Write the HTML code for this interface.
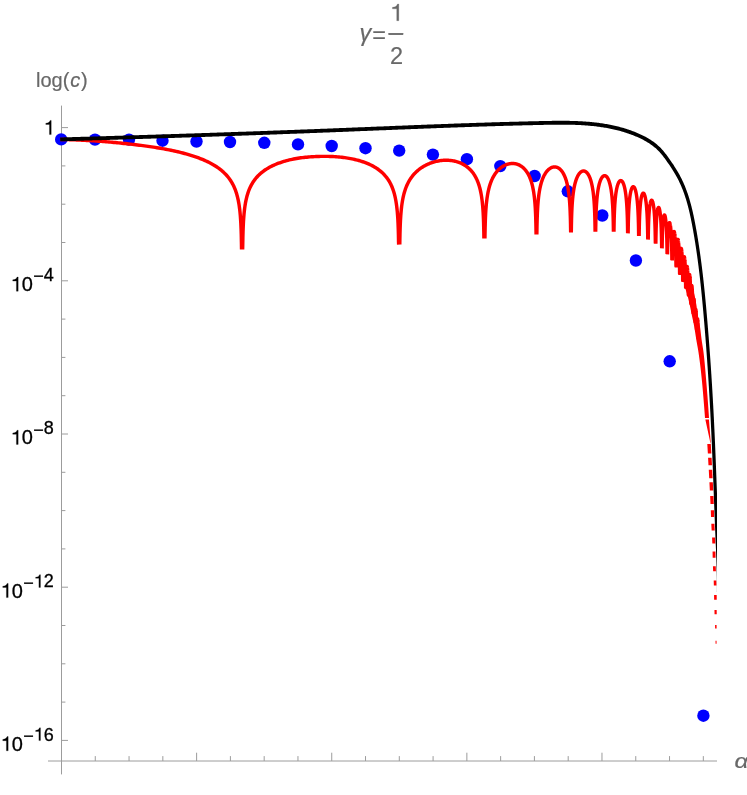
<!DOCTYPE html>
<html><head><meta charset="utf-8"><title>plot</title>
<style>html,body{margin:0;padding:0;background:#fff}body{width:747px;height:795px;position:relative;overflow:hidden;font-family:"Liberation Sans",sans-serif}</style>
</head><body>
<svg width="747" height="795" viewBox="0 0 747 795" style="position:absolute;left:0;top:0;font-family:'Liberation Sans',sans-serif;will-change:transform">
<defs><clipPath id="cp"><rect x="40" y="100" width="676.9" height="680"/></clipPath></defs>
<rect width="747" height="795" fill="#fff"/>
<line x1="48" y1="761.0" x2="717" y2="761.0" stroke="#9c9c9c" stroke-width="1"/>
<line x1="61.5" y1="105.6" x2="61.5" y2="774.4" stroke="#9c9c9c" stroke-width="1"/>
<line x1="61.50" y1="761.0" x2="61.50" y2="752.70" stroke="#9c9c9c" stroke-width="1"/>
<line x1="95.28" y1="761.0" x2="95.28" y2="756.10" stroke="#9c9c9c" stroke-width="1"/>
<line x1="129.06" y1="761.0" x2="129.06" y2="756.10" stroke="#9c9c9c" stroke-width="1"/>
<line x1="162.84" y1="761.0" x2="162.84" y2="756.10" stroke="#9c9c9c" stroke-width="1"/>
<line x1="196.62" y1="761.0" x2="196.62" y2="752.70" stroke="#9c9c9c" stroke-width="1"/>
<line x1="230.40" y1="761.0" x2="230.40" y2="756.10" stroke="#9c9c9c" stroke-width="1"/>
<line x1="264.18" y1="761.0" x2="264.18" y2="756.10" stroke="#9c9c9c" stroke-width="1"/>
<line x1="297.96" y1="761.0" x2="297.96" y2="756.10" stroke="#9c9c9c" stroke-width="1"/>
<line x1="331.74" y1="761.0" x2="331.74" y2="752.70" stroke="#9c9c9c" stroke-width="1"/>
<line x1="365.52" y1="761.0" x2="365.52" y2="756.10" stroke="#9c9c9c" stroke-width="1"/>
<line x1="399.30" y1="761.0" x2="399.30" y2="756.10" stroke="#9c9c9c" stroke-width="1"/>
<line x1="433.08" y1="761.0" x2="433.08" y2="756.10" stroke="#9c9c9c" stroke-width="1"/>
<line x1="466.86" y1="761.0" x2="466.86" y2="752.70" stroke="#9c9c9c" stroke-width="1"/>
<line x1="500.64" y1="761.0" x2="500.64" y2="756.10" stroke="#9c9c9c" stroke-width="1"/>
<line x1="534.42" y1="761.0" x2="534.42" y2="756.10" stroke="#9c9c9c" stroke-width="1"/>
<line x1="568.20" y1="761.0" x2="568.20" y2="756.10" stroke="#9c9c9c" stroke-width="1"/>
<line x1="601.98" y1="761.0" x2="601.98" y2="752.70" stroke="#9c9c9c" stroke-width="1"/>
<line x1="635.76" y1="761.0" x2="635.76" y2="756.10" stroke="#9c9c9c" stroke-width="1"/>
<line x1="669.54" y1="761.0" x2="669.54" y2="756.10" stroke="#9c9c9c" stroke-width="1"/>
<line x1="703.32" y1="761.0" x2="703.32" y2="756.10" stroke="#9c9c9c" stroke-width="1"/>
<line x1="61.5" y1="127.60" x2="68.00" y2="127.60" stroke="#9c9c9c" stroke-width="1"/>
<line x1="61.5" y1="165.90" x2="65.40" y2="165.90" stroke="#9c9c9c" stroke-width="1"/>
<line x1="61.5" y1="204.20" x2="65.40" y2="204.20" stroke="#9c9c9c" stroke-width="1"/>
<line x1="61.5" y1="242.50" x2="65.40" y2="242.50" stroke="#9c9c9c" stroke-width="1"/>
<line x1="61.5" y1="280.80" x2="68.00" y2="280.80" stroke="#9c9c9c" stroke-width="1"/>
<line x1="61.5" y1="319.10" x2="65.40" y2="319.10" stroke="#9c9c9c" stroke-width="1"/>
<line x1="61.5" y1="357.40" x2="65.40" y2="357.40" stroke="#9c9c9c" stroke-width="1"/>
<line x1="61.5" y1="395.70" x2="65.40" y2="395.70" stroke="#9c9c9c" stroke-width="1"/>
<line x1="61.5" y1="434.00" x2="68.00" y2="434.00" stroke="#9c9c9c" stroke-width="1"/>
<line x1="61.5" y1="472.30" x2="65.40" y2="472.30" stroke="#9c9c9c" stroke-width="1"/>
<line x1="61.5" y1="510.60" x2="65.40" y2="510.60" stroke="#9c9c9c" stroke-width="1"/>
<line x1="61.5" y1="548.90" x2="65.40" y2="548.90" stroke="#9c9c9c" stroke-width="1"/>
<line x1="61.5" y1="587.20" x2="68.00" y2="587.20" stroke="#9c9c9c" stroke-width="1"/>
<line x1="61.5" y1="625.50" x2="65.40" y2="625.50" stroke="#9c9c9c" stroke-width="1"/>
<line x1="61.5" y1="663.80" x2="65.40" y2="663.80" stroke="#9c9c9c" stroke-width="1"/>
<line x1="61.5" y1="702.10" x2="65.40" y2="702.10" stroke="#9c9c9c" stroke-width="1"/>
<line x1="61.5" y1="740.40" x2="68.00" y2="740.40" stroke="#9c9c9c" stroke-width="1"/>
<g clip-path="url(#cp)">
<g fill="#0000ff">
<circle cx="61.2" cy="139.4" r="6.2"/>
<circle cx="95.0" cy="139.6" r="6.2"/>
<circle cx="129.0" cy="139.6" r="6.2"/>
<circle cx="162.5" cy="140.7" r="6.2"/>
<circle cx="196.5" cy="141.5" r="6.2"/>
<circle cx="230.0" cy="142.0" r="6.2"/>
<circle cx="264.3" cy="142.8" r="6.2"/>
<circle cx="298.0" cy="144.4" r="6.2"/>
<circle cx="331.7" cy="146.0" r="6.2"/>
<circle cx="365.5" cy="148.2" r="6.2"/>
<circle cx="399.2" cy="150.6" r="6.2"/>
<circle cx="432.9" cy="154.6" r="6.2"/>
<circle cx="466.9" cy="159.2" r="6.2"/>
<circle cx="500.3" cy="166.1" r="6.2"/>
<circle cx="534.6" cy="176.0" r="6.2"/>
<circle cx="567.8" cy="191.3" r="6.2"/>
<circle cx="602.3" cy="215.5" r="6.2"/>
<circle cx="635.9" cy="260.5" r="6.2"/>
<circle cx="669.7" cy="361.3" r="6.2"/>
<circle cx="703.4" cy="715.7" r="6.2"/>
</g>
<path d="M60.40 139.40 L61.22 139.40 L61.27 139.40 L61.36 139.40 L61.48 139.41 L61.64 139.41 L61.83 139.42 L62.05 139.42 L62.31 139.43 L62.61 139.44 L62.94 139.45 L63.30 139.46 L63.70 139.47 L64.13 139.49 L64.60 139.50 L65.09 139.52 L65.63 139.53 L66.19 139.55 L66.79 139.57 L67.42 139.59 L68.09 139.62 L68.78 139.64 L69.51 139.67 L70.27 139.69 L71.06 139.72 L71.88 139.76 L72.73 139.79 L73.62 139.82 L74.53 139.86 L75.47 139.90 L76.44 139.94 L77.44 139.99 L78.47 140.03 L79.53 140.08 L80.62 140.13 L81.73 140.19 L82.87 140.24 L84.04 140.30 L85.23 140.36 L86.45 140.43 L87.69 140.50 L88.96 140.57 L90.25 140.64 L91.57 140.72 L92.91 140.80 L94.27 140.88 L95.65 140.97 L97.06 141.06 L98.48 141.16 L99.93 141.26 L101.40 141.37 L102.88 141.49 L104.39 141.60 L105.91 141.73 L107.45 141.86 L109.01 141.99 L110.59 142.13 L112.18 142.27 L113.78 142.42 L115.40 142.58 L117.04 142.73 L118.68 142.90 L120.34 143.06 L122.02 143.23 L123.70 143.41 L125.39 143.59 L127.10 143.77 L128.81 143.95 L130.53 144.14 L132.27 144.34 L134.00 144.54 L135.75 144.74 L137.50 144.95 L139.26 145.17 L141.02 145.39 L142.78 145.62 L144.55 145.86 L146.33 146.10 L148.10 146.35 L149.87 146.60 L151.64 146.87 L153.41 147.14 L155.18 147.41 L156.94 147.70 L158.71 147.99 L160.47 148.29 L162.23 148.60 L163.98 148.92 L165.73 149.25 L167.47 149.58 L169.21 149.92 L170.94 150.28 L172.67 150.64 L174.38 151.01 L176.09 151.39 L177.79 151.78 L179.47 152.18 L181.15 152.60 L182.81 153.02 L184.47 153.46 L186.11 153.90 L187.73 154.36 L189.35 154.84 L190.94 155.32 L192.53 155.82 L194.10 156.33 L195.65 156.86 L197.18 157.40 L198.70 157.96 L200.20 158.53 L201.68 159.11 L203.14 159.71 L204.58 160.33 L206.00 160.96 L207.40 161.61 L208.77 162.29 L210.13 162.98 L211.46 163.69 L212.77 164.42 L214.06 165.17 L215.32 165.95 L216.56 166.75 L217.77 167.58 L218.96 168.43 L220.12 169.31 L221.26 170.22 L222.37 171.16 L223.45 172.13 L224.50 173.14 L225.53 174.18 L226.52 175.26 L227.49 176.37 L228.43 177.53 L229.34 178.74 L230.22 179.99 L231.07 181.29 L231.88 182.65 L232.67 184.07 L233.43 185.55 L234.15 187.10 L234.84 188.72 L235.51 190.43 L236.13 192.24 L236.73 194.14 L237.29 196.17 L237.82 198.32 L238.32 200.62 L238.78 203.09 L239.21 205.76 L239.61 208.66 L239.97 211.84 L240.30 215.35 L240.59 219.27 L240.85 223.72 L241.08 228.85 L241.27 234.92 L241.42 242.34 L241.54 249.40 M242.64 249.40 L242.74 244.71 L242.88 237.29 L243.04 231.23 L243.24 226.12 L243.46 221.68 L243.72 217.78 L244.00 214.29 L244.32 211.14 L244.66 208.26 L245.03 205.62 L245.43 203.18 L245.87 200.91 L246.32 198.79 L246.81 196.80 L247.33 194.93 L247.88 193.16 L248.45 191.49 L249.05 189.91 L249.68 188.40 L250.33 186.97 L251.02 185.60 L251.73 184.29 L252.46 183.03 L253.23 181.83 L254.02 180.68 L254.83 179.57 L255.67 178.51 L256.54 177.48 L257.43 176.50 L258.34 175.55 L259.28 174.63 L260.24 173.75 L261.22 172.90 L262.23 172.08 L263.26 171.29 L264.32 170.52 L265.39 169.79 L266.49 169.08 L267.60 168.39 L268.74 167.73 L269.90 167.09 L271.07 166.48 L272.27 165.89 L273.48 165.31 L274.71 164.76 L275.96 164.23 L277.23 163.72 L278.52 163.23 L279.82 162.76 L281.13 162.30 L282.46 161.86 L283.81 161.44 L285.17 161.04 L286.54 160.66 L287.93 160.30 L289.33 159.95 L290.74 159.63 L292.17 159.32 L293.60 159.03 L295.05 158.76 L296.50 158.50 L297.96 158.26 L299.44 158.04 L300.92 157.83 L302.41 157.64 L303.90 157.47 L305.40 157.30 L306.91 157.16 L308.42 157.02 L309.94 156.90 L311.46 156.79 L312.99 156.70 L314.52 156.62 L316.05 156.54 L317.58 156.49 L319.12 156.44 L320.65 156.40 L322.18 156.37 L323.72 156.36 L325.25 156.35 L326.78 156.36 L328.31 156.39 L329.84 156.43 L331.36 156.48 L332.88 156.55 L334.39 156.64 L335.90 156.74 L337.40 156.85 L338.89 156.98 L340.38 157.13 L341.86 157.29 L343.34 157.47 L344.80 157.66 L346.25 157.87 L347.70 158.10 L349.13 158.34 L350.56 158.60 L351.97 158.88 L353.37 159.17 L354.76 159.49 L356.13 159.81 L357.49 160.16 L358.84 160.53 L360.17 160.91 L361.48 161.32 L362.78 161.74 L364.07 162.18 L365.34 162.65 L366.59 163.13 L367.82 163.64 L369.03 164.16 L370.23 164.71 L371.40 165.29 L372.56 165.89 L373.70 166.51 L374.81 167.16 L375.91 167.83 L376.98 168.53 L378.04 169.26 L379.07 170.02 L380.08 170.81 L381.06 171.63 L382.02 172.48 L382.96 173.37 L383.87 174.30 L384.76 175.26 L385.63 176.26 L386.47 177.31 L387.28 178.39 L388.07 179.53 L388.84 180.72 L389.57 181.95 L390.28 183.25 L390.97 184.61 L391.62 186.04 L392.25 187.53 L392.85 189.11 L393.42 190.77 L393.97 192.53 L394.49 194.40 L394.98 196.38 L395.43 198.50 L395.87 200.77 L396.27 203.21 L396.64 205.84 L396.98 208.72 L397.30 211.87 L397.58 215.36 L397.84 219.26 L398.06 223.69 L398.26 228.81 L398.42 234.87 L398.56 242.28 L398.66 244.61 M399.78 244.59 L399.87 238.95 L399.98 233.83 L400.10 229.39 L400.24 225.48 L400.39 221.98 L400.56 218.81 L400.75 215.93 L400.95 213.27 L401.17 210.82 L401.40 208.53 L401.65 206.39 L401.91 204.39 L402.19 202.50 L402.49 200.72 L402.80 199.03 L403.12 197.42 L403.46 195.89 L403.82 194.43 L404.19 193.04 L404.57 191.70 L404.97 190.42 L405.38 189.19 L405.81 188.01 L406.25 186.87 L406.70 185.78 L407.17 184.72 L407.65 183.70 L408.15 182.72 L408.65 181.77 L409.17 180.85 L409.71 179.96 L410.25 179.09 L410.81 178.26 L411.38 177.45 L411.96 176.67 L412.55 175.91 L413.16 175.17 L413.77 174.46 L414.40 173.77 L415.03 173.10 L415.68 172.45 L416.34 171.82 L417.00 171.21 L417.68 170.61 L418.37 170.04 L419.06 169.49 L419.76 168.95 L420.48 168.43 L421.20 167.93 L421.92 167.44 L422.66 166.97 L423.40 166.52 L424.15 166.09 L424.91 165.67 L425.67 165.26 L426.44 164.88 L427.22 164.50 L428.00 164.15 L428.79 163.81 L429.58 163.48 L430.38 163.17 L431.18 162.88 L431.98 162.60 L432.79 162.34 L433.60 162.09 L434.42 161.86 L435.24 161.64 L436.06 161.44 L436.88 161.25 L437.71 161.08 L438.53 160.93 L439.36 160.79 L440.19 160.66 L441.02 160.56 L441.85 160.46 L442.68 160.39 L443.51 160.33 L444.34 160.28 L445.17 160.26 L445.99 160.24 L446.82 160.25 L447.64 160.27 L448.46 160.31 L449.28 160.36 L450.10 160.43 L450.91 160.52 L451.72 160.63 L452.52 160.75 L453.32 160.89 L454.12 161.05 L454.91 161.22 L455.70 161.42 L456.48 161.63 L457.26 161.86 L458.03 162.10 L458.79 162.37 L459.55 162.65 L460.30 162.96 L461.04 163.28 L461.78 163.63 L462.50 163.99 L463.22 164.37 L463.94 164.77 L464.64 165.20 L465.33 165.64 L466.02 166.11 L466.70 166.60 L467.36 167.11 L468.02 167.65 L468.67 168.20 L469.30 168.78 L469.93 169.39 L470.54 170.02 L471.15 170.68 L471.74 171.36 L472.32 172.07 L472.89 172.81 L473.45 173.58 L473.99 174.38 L474.53 175.21 L475.05 176.08 L475.55 176.98 L476.05 177.91 L476.53 178.88 L477.00 179.90 L477.45 180.95 L477.89 182.05 L478.32 183.19 L478.73 184.39 L479.13 185.64 L479.51 186.94 L479.88 188.31 L480.24 189.74 L480.58 191.25 L480.90 192.83 L481.21 194.50 L481.51 196.27 L481.79 198.14 L482.05 200.13 L482.30 202.25 L482.53 204.53 L482.75 206.97 L482.95 209.62 L483.14 212.50 L483.31 215.65 L483.46 219.14 L483.60 223.05 L483.72 227.48 L483.83 232.60 L483.92 238.42 M484.91 238.39 L484.97 235.71 L485.05 231.27 L485.13 227.36 L485.23 223.87 L485.33 220.71 L485.44 217.83 L485.57 215.18 L485.70 212.73 L485.84 210.45 L485.99 208.32 L486.15 206.32 L486.32 204.44 L486.50 202.66 L486.69 200.98 L486.89 199.38 L487.10 197.86 L487.31 196.41 L487.54 195.02 L487.77 193.70 L488.02 192.43 L488.27 191.21 L488.53 190.04 L488.80 188.91 L489.07 187.83 L489.36 186.78 L489.65 185.78 L489.95 184.81 L490.26 183.87 L490.58 182.96 L490.91 182.09 L491.24 181.24 L491.58 180.42 L491.92 179.63 L492.28 178.86 L492.64 178.12 L493.01 177.40 L493.38 176.71 L493.76 176.04 L494.15 175.39 L494.55 174.76 L494.95 174.15 L495.35 173.56 L495.77 172.99 L496.18 172.43 L496.61 171.90 L497.04 171.39 L497.47 170.89 L497.91 170.41 L498.35 169.95 L498.80 169.51 L499.25 169.08 L499.71 168.67 L500.17 168.27 L500.64 167.89 L501.11 167.53 L501.58 167.18 L502.06 166.85 L502.54 166.54 L503.02 166.24 L503.51 165.96 L503.99 165.69 L504.48 165.43 L504.98 165.20 L505.47 164.97 L505.97 164.77 L506.47 164.58 L506.97 164.40 L507.47 164.24 L507.97 164.10 L508.48 163.97 L508.98 163.85 L509.49 163.75 L509.99 163.67 L510.50 163.60 L511.01 163.55 L511.51 163.51 L512.02 163.49 L512.52 163.49 L513.03 163.50 L513.53 163.52 L514.03 163.57 L514.53 163.62 L515.03 163.70 L515.53 163.79 L516.02 163.90 L516.52 164.03 L517.01 164.17 L517.49 164.33 L517.98 164.50 L518.46 164.70 L518.94 164.91 L519.42 165.14 L519.89 165.38 L520.36 165.65 L520.83 165.93 L521.29 166.23 L521.75 166.55 L522.20 166.89 L522.65 167.25 L523.09 167.63 L523.53 168.02 L523.96 168.44 L524.39 168.88 L524.82 169.34 L525.23 169.82 L525.65 170.32 L526.05 170.84 L526.45 171.39 L526.85 171.96 L527.24 172.55 L527.62 173.17 L527.99 173.81 L528.36 174.48 L528.72 175.17 L529.08 175.89 L529.42 176.64 L529.76 177.42 L530.09 178.22 L530.42 179.06 L530.74 179.94 L531.05 180.84 L531.35 181.78 L531.64 182.76 L531.93 183.78 L532.20 184.84 L532.47 185.94 L532.73 187.09 L532.98 188.29 L533.23 189.55 L533.46 190.86 L533.69 192.23 L533.90 193.67 L534.11 195.18 L534.31 196.76 L534.50 198.44 L534.68 200.21 L534.85 202.08 L535.01 204.07 L535.16 206.20 L535.30 208.47 L535.43 210.92 L535.56 213.57 L535.67 216.45 L535.77 219.61 L535.87 223.10 L535.95 227.01 L536.03 231.44 L536.09 234.41 M536.81 234.39 L536.86 233.83 L536.92 229.92 L536.98 226.43 L537.05 223.27 L537.13 220.39 L537.21 217.75 L537.30 215.30 L537.39 213.02 L537.49 210.89 L537.60 208.90 L537.71 207.02 L537.83 205.25 L537.95 203.57 L538.09 201.97 L538.22 200.46 L538.37 199.01 L538.52 197.63 L538.67 196.31 L538.83 195.05 L539.00 193.83 L539.17 192.67 L539.35 191.55 L539.53 190.47 L539.72 189.44 L539.92 188.44 L540.12 187.47 L540.32 186.54 L540.53 185.65 L540.75 184.78 L540.97 183.94 L541.20 183.13 L541.43 182.35 L541.66 181.59 L541.90 180.86 L542.14 180.15 L542.39 179.47 L542.65 178.81 L542.90 178.17 L543.17 177.55 L543.43 176.95 L543.70 176.37 L543.97 175.82 L544.25 175.28 L544.53 174.76 L544.82 174.26 L545.10 173.78 L545.40 173.31 L545.69 172.86 L545.99 172.43 L546.29 172.02 L546.59 171.63 L546.90 171.25 L547.21 170.89 L547.52 170.54 L547.83 170.21 L548.15 169.90 L548.47 169.60 L548.79 169.32 L549.11 169.05 L549.43 168.80 L549.76 168.57 L550.09 168.35 L550.41 168.15 L550.74 167.96 L551.08 167.79 L551.41 167.63 L551.74 167.49 L552.07 167.37 L552.41 167.26 L552.74 167.16 L553.08 167.09 L553.41 167.02 L553.75 166.98 L554.09 166.95 L554.42 166.93 L554.76 166.93 L555.09 166.95 L555.43 166.98 L555.76 167.03 L556.09 167.09 L556.42 167.17 L556.76 167.27 L557.09 167.39 L557.41 167.52 L557.74 167.66 L558.07 167.83 L558.39 168.01 L558.71 168.21 L559.03 168.42 L559.35 168.65 L559.67 168.90 L559.98 169.17 L560.29 169.46 L560.60 169.76 L560.91 170.08 L561.21 170.42 L561.51 170.78 L561.81 171.16 L562.10 171.56 L562.40 171.98 L562.68 172.41 L562.97 172.87 L563.25 173.35 L563.53 173.84 L563.80 174.36 L564.07 174.90 L564.33 175.47 L564.60 176.05 L564.85 176.66 L565.11 177.29 L565.36 177.95 L565.60 178.63 L565.84 179.34 L566.07 180.08 L566.30 180.84 L566.53 181.63 L566.75 182.45 L566.97 183.30 L567.18 184.18 L567.38 185.10 L567.58 186.05 L567.78 187.04 L567.97 188.07 L568.15 189.14 L568.33 190.26 L568.50 191.42 L568.67 192.62 L568.83 193.89 L568.98 195.20 L569.13 196.58 L569.28 198.03 L569.41 199.54 L569.55 201.14 L569.67 202.82 L569.79 204.59 L569.90 206.47 L570.01 208.47 L570.11 210.60 L570.20 212.88 L570.29 215.33 L570.37 217.98 L570.45 220.86 L570.52 224.02 L570.58 227.52 L570.64 231.43 L570.69 232.51 M571.30 232.49 L571.34 229.81 L571.39 226.65 L571.44 223.77 L571.50 221.13 L571.56 218.68 L571.63 216.41 L571.70 214.28 L571.78 212.29 L571.86 210.41 L571.94 208.64 L572.03 206.97 L572.12 205.38 L572.22 203.86 L572.32 202.42 L572.43 201.05 L572.54 199.73 L572.65 198.47 L572.77 197.26 L572.89 196.10 L573.02 194.99 L573.15 193.92 L573.28 192.88 L573.42 191.89 L573.56 190.93 L573.70 190.01 L573.85 189.12 L574.01 188.26 L574.16 187.43 L574.32 186.62 L574.48 185.85 L574.65 185.10 L574.82 184.38 L574.99 183.68 L575.17 183.00 L575.35 182.35 L575.53 181.72 L575.71 181.11 L575.90 180.52 L576.09 179.95 L576.29 179.40 L576.48 178.88 L576.68 178.37 L576.88 177.88 L577.09 177.41 L577.29 176.95 L577.50 176.52 L577.71 176.10 L577.92 175.70 L578.14 175.32 L578.35 174.95 L578.57 174.60 L578.79 174.27 L579.01 173.95 L579.24 173.65 L579.46 173.37 L579.69 173.10 L579.92 172.85 L580.15 172.62 L580.38 172.40 L580.61 172.20 L580.84 172.01 L581.07 171.84 L581.31 171.68 L581.54 171.54 L581.78 171.42 L582.01 171.31 L582.25 171.22 L582.49 171.14 L582.73 171.08 L582.96 171.03 L583.20 171.00 L583.44 170.99 L583.67 170.99 L583.91 171.01 L584.15 171.05 L584.39 171.10 L584.62 171.16 L584.86 171.24 L585.09 171.34 L585.33 171.46 L585.56 171.59 L585.79 171.74 L586.02 171.91 L586.25 172.09 L586.48 172.29 L586.71 172.50 L586.94 172.74 L587.16 172.99 L587.39 173.26 L587.61 173.54 L587.83 173.85 L588.05 174.17 L588.26 174.51 L588.48 174.86 L588.69 175.24 L588.90 175.64 L589.11 176.05 L589.31 176.48 L589.52 176.94 L589.72 177.41 L589.92 177.90 L590.11 178.42 L590.31 178.95 L590.50 179.51 L590.69 180.09 L590.87 180.69 L591.05 181.31 L591.23 181.95 L591.41 182.63 L591.58 183.32 L591.75 184.04 L591.92 184.79 L592.08 185.56 L592.24 186.37 L592.39 187.20 L592.55 188.06 L592.70 188.96 L592.84 189.88 L592.98 190.85 L593.12 191.85 L593.25 192.88 L593.38 193.96 L593.51 195.08 L593.63 196.25 L593.75 197.47 L593.86 198.74 L593.97 200.06 L594.08 201.45 L594.18 202.90 L594.28 204.42 L594.37 206.02 L594.46 207.71 L594.54 209.49 L594.62 211.37 L594.70 213.38 L594.77 215.51 L594.84 217.79 L594.90 220.25 L594.96 222.90 L595.01 225.79 L595.06 228.95 L595.10 231.60 M595.66 231.60 L595.69 230.63 L595.73 227.75 L595.78 225.11 L595.82 222.67 L595.87 220.40 L595.93 218.27 L595.98 216.29 L596.04 214.42 L596.11 212.65 L596.17 210.98 L596.24 209.39 L596.31 207.88 L596.39 206.45 L596.47 205.08 L596.55 203.77 L596.64 202.51 L596.73 201.31 L596.82 200.16 L596.91 199.05 L597.01 197.98 L597.11 196.96 L597.21 195.97 L597.32 195.02 L597.43 194.11 L597.54 193.23 L597.65 192.37 L597.77 191.55 L597.89 190.76 L598.01 189.99 L598.14 189.25 L598.26 188.54 L598.39 187.85 L598.53 187.19 L598.66 186.54 L598.80 185.92 L598.94 185.32 L599.08 184.75 L599.22 184.19 L599.36 183.66 L599.51 183.14 L599.66 182.64 L599.81 182.16 L599.96 181.71 L600.12 181.26 L600.28 180.84 L600.43 180.44 L600.59 180.05 L600.75 179.68 L600.92 179.33 L601.08 178.99 L601.24 178.67 L601.41 178.37 L601.58 178.09 L601.75 177.82 L601.92 177.56 L602.09 177.33 L602.26 177.11 L602.43 176.90 L602.61 176.71 L602.78 176.54 L602.96 176.38 L603.13 176.24 L603.31 176.12 L603.48 176.01 L603.66 175.91 L603.84 175.83 L604.02 175.77 L604.19 175.73 L604.37 175.69 L604.55 175.68 L604.73 175.68 L604.91 175.70 L605.08 175.73 L605.26 175.78 L605.44 175.84 L605.62 175.92 L605.79 176.01 L605.97 176.13 L606.14 176.25 L606.32 176.40 L606.49 176.56 L606.67 176.74 L606.84 176.93 L607.01 177.14 L607.18 177.37 L607.35 177.61 L607.52 177.87 L607.69 178.15 L607.86 178.44 L608.02 178.76 L608.18 179.09 L608.35 179.44 L608.51 179.80 L608.67 180.19 L608.82 180.59 L608.98 181.01 L609.14 181.45 L609.29 181.91 L609.44 182.39 L609.59 182.89 L609.74 183.41 L609.88 183.95 L610.02 184.51 L610.16 185.10 L610.30 185.70 L610.44 186.33 L610.57 186.98 L610.71 187.66 L610.84 188.36 L610.96 189.08 L611.09 189.83 L611.21 190.61 L611.33 191.42 L611.45 192.25 L611.56 193.12 L611.67 194.02 L611.78 194.95 L611.89 195.91 L611.99 196.91 L612.09 197.96 L612.19 199.04 L612.28 200.16 L612.37 201.33 L612.46 202.55 L612.55 203.82 L612.63 205.15 L612.71 206.53 L612.79 207.99 L612.86 209.51 L612.93 211.11 L612.99 212.80 L613.06 214.58 L613.12 216.47 L613.17 218.47 L613.23 220.60 L613.28 222.89 L613.32 225.34 L613.37 228.00 L613.41 230.89 L613.44 231.60 M613.96 231.60 L613.99 229.66 L614.03 227.22 L614.07 224.95 L614.11 222.83 L614.15 220.84 L614.20 218.97 L614.25 217.21 L614.30 215.54 L614.35 213.96 L614.41 212.45 L614.47 211.02 L614.53 209.65 L614.59 208.34 L614.66 207.09 L614.73 205.90 L614.80 204.75 L614.87 203.64 L614.95 202.58 L615.03 201.56 L615.11 200.58 L615.19 199.63 L615.27 198.72 L615.36 197.85 L615.45 197.00 L615.54 196.18 L615.63 195.39 L615.73 194.63 L615.82 193.90 L615.92 193.19 L616.02 192.51 L616.13 191.85 L616.23 191.21 L616.34 190.59 L616.44 190.00 L616.55 189.43 L616.66 188.88 L616.78 188.35 L616.89 187.84 L617.01 187.35 L617.12 186.88 L617.24 186.43 L617.36 185.99 L617.48 185.58 L617.61 185.18 L617.73 184.80 L617.85 184.43 L617.98 184.09 L618.11 183.76 L618.24 183.45 L618.36 183.15 L618.49 182.87 L618.63 182.61 L618.76 182.37 L618.89 182.14 L619.02 181.92 L619.16 181.72 L619.29 181.54 L619.43 181.38 L619.56 181.23 L619.70 181.09 L619.84 180.97 L619.97 180.87 L620.11 180.79 L620.25 180.72 L620.39 180.66 L620.52 180.62 L620.66 180.60 L620.80 180.59 L620.94 180.60 L621.08 180.62 L621.21 180.66 L621.35 180.72 L621.49 180.79 L621.63 180.88 L621.76 180.98 L621.90 181.10 L622.04 181.24 L622.17 181.39 L622.31 181.56 L622.44 181.75 L622.58 181.95 L622.71 182.17 L622.84 182.41 L622.97 182.66 L623.11 182.93 L623.24 183.22 L623.36 183.53 L623.49 183.85 L623.62 184.19 L623.75 184.55 L623.87 184.93 L623.99 185.32 L624.12 185.73 L624.24 186.17 L624.36 186.62 L624.48 187.09 L624.59 187.58 L624.71 188.09 L624.82 188.62 L624.94 189.17 L625.05 189.74 L625.16 190.33 L625.26 190.95 L625.37 191.58 L625.47 192.24 L625.58 192.93 L625.68 193.64 L625.78 194.37 L625.87 195.13 L625.97 195.92 L626.06 196.73 L626.15 197.58 L626.24 198.45 L626.33 199.36 L626.41 200.30 L626.49 201.27 L626.57 202.28 L626.65 203.33 L626.73 204.41 L626.80 205.55 L626.87 206.72 L626.94 207.95 L627.01 209.22 L627.07 210.56 L627.13 211.95 L627.19 213.41 L627.25 214.94 L627.30 216.55 L627.35 218.24 L627.40 220.02 L627.45 221.91 L627.49 223.92 L627.53 226.06 L627.57 228.35 L627.61 230.81 L627.64 233.27 M628.13 233.33 L628.15 232.74 L628.18 230.47 L628.22 228.35 L628.25 226.37 L628.29 224.50 L628.32 222.74 L628.36 221.07 L628.41 219.49 L628.45 217.99 L628.50 216.56 L628.54 215.20 L628.59 213.89 L628.64 212.65 L628.70 211.45 L628.75 210.31 L628.81 209.21 L628.87 208.15 L628.93 207.13 L628.99 206.16 L629.05 205.21 L629.12 204.31 L629.19 203.44 L629.25 202.59 L629.33 201.78 L629.40 201.00 L629.47 200.25 L629.55 199.52 L629.62 198.82 L629.70 198.14 L629.78 197.49 L629.86 196.86 L629.94 196.25 L630.03 195.67 L630.11 195.10 L630.20 194.56 L630.28 194.04 L630.37 193.54 L630.46 193.06 L630.55 192.60 L630.64 192.15 L630.74 191.73 L630.83 191.33 L630.93 190.94 L631.02 190.57 L631.12 190.22 L631.22 189.89 L631.31 189.57 L631.41 189.27 L631.51 188.99 L631.61 188.72 L631.72 188.47 L631.82 188.24 L631.92 188.03 L632.02 187.83 L632.13 187.65 L632.23 187.48 L632.34 187.33 L632.44 187.20 L632.55 187.08 L632.65 186.98 L632.76 186.89 L632.87 186.82 L632.97 186.77 L633.08 186.73 L633.19 186.71 L633.29 186.70 L633.40 186.71 L633.51 186.74 L633.61 186.78 L633.72 186.84 L633.83 186.91 L633.93 187.00 L634.04 187.11 L634.15 187.23 L634.25 187.37 L634.36 187.53 L634.46 187.70 L634.57 187.89 L634.67 188.09 L634.78 188.31 L634.88 188.55 L634.98 188.81 L635.08 189.08 L635.19 189.37 L635.29 189.67 L635.39 190.00 L635.49 190.34 L635.58 190.70 L635.68 191.07 L635.78 191.46 L635.87 191.88 L635.97 192.31 L636.06 192.75 L636.16 193.22 L636.25 193.71 L636.34 194.21 L636.43 194.74 L636.52 195.28 L636.60 195.85 L636.69 196.43 L636.77 197.04 L636.86 197.67 L636.94 198.32 L637.02 199.00 L637.10 199.69 L637.18 200.42 L637.25 201.16 L637.33 201.93 L637.40 202.73 L637.47 203.56 L637.55 204.42 L637.61 205.30 L637.68 206.22 L637.75 207.17 L637.81 208.15 L637.87 209.17 L637.93 210.22 L637.99 211.32 L638.05 212.46 L638.10 213.64 L638.16 214.88 L638.21 216.16 L638.26 217.50 L638.30 218.90 L638.35 220.37 L638.39 221.90 L638.44 223.51 L638.48 225.21 L638.51 227.00 L638.55 228.90 L638.58 230.91 L638.62 233.05 L638.65 235.34 L638.67 235.85 M639.13 235.96 L639.16 234.30 L639.19 232.32 L639.22 230.46 L639.25 228.70 L639.28 227.04 L639.32 225.46 L639.35 223.96 L639.39 222.54 L639.43 221.18 L639.47 219.88 L639.52 218.64 L639.56 217.45 L639.60 216.31 L639.65 215.21 L639.70 214.16 L639.75 213.15 L639.80 212.18 L639.85 211.25 L639.91 210.35 L639.96 209.48 L640.02 208.65 L640.08 207.84 L640.14 207.07 L640.20 206.32 L640.26 205.60 L640.32 204.90 L640.39 204.24 L640.45 203.59 L640.52 202.97 L640.59 202.37 L640.66 201.80 L640.73 201.24 L640.80 200.71 L640.87 200.20 L640.94 199.70 L641.02 199.23 L641.09 198.78 L641.17 198.35 L641.25 197.93 L641.32 197.54 L641.40 197.16 L641.48 196.80 L641.56 196.46 L641.64 196.13 L641.72 195.83 L641.81 195.54 L641.89 195.27 L641.97 195.01 L642.06 194.77 L642.14 194.55 L642.23 194.35 L642.31 194.16 L642.40 193.98 L642.48 193.83 L642.57 193.69 L642.66 193.56 L642.74 193.46 L642.83 193.37 L642.92 193.29 L643.01 193.23 L643.10 193.19 L643.18 193.16 L643.27 193.15 L643.36 193.15 L643.45 193.17 L643.54 193.21 L643.63 193.26 L643.72 193.33 L643.80 193.41 L643.89 193.51 L643.98 193.63 L644.07 193.76 L644.16 193.91 L644.24 194.07 L644.33 194.25 L644.42 194.45 L644.50 194.66 L644.59 194.89 L644.67 195.14 L644.76 195.40 L644.84 195.68 L644.93 195.98 L645.01 196.29 L645.09 196.62 L645.18 196.97 L645.26 197.34 L645.34 197.72 L645.42 198.12 L645.50 198.54 L645.58 198.98 L645.65 199.43 L645.73 199.90 L645.81 200.40 L645.88 200.91 L645.96 201.44 L646.03 201.99 L646.10 202.56 L646.17 203.15 L646.24 203.77 L646.31 204.40 L646.38 205.06 L646.45 205.74 L646.51 206.44 L646.58 207.16 L646.64 207.92 L646.70 208.69 L646.76 209.50 L646.82 210.33 L646.88 211.18 L646.94 212.07 L646.99 212.99 L647.05 213.95 L647.10 214.93 L647.15 215.95 L647.20 217.01 L647.25 218.11 L647.30 219.26 L647.34 220.44 L647.38 221.68 L647.43 222.97 L647.47 224.31 L647.51 225.71 L647.55 227.18 L647.58 228.71 L647.62 230.33 L647.65 232.03 L647.68 233.82 L647.71 235.72 L647.74 237.73 L647.77 239.41 M648.22 239.59 L648.24 239.02 L648.27 237.16 L648.29 235.41 L648.32 233.75 L648.35 232.18 L648.38 230.68 L648.41 229.26 L648.44 227.91 L648.48 226.61 L648.51 225.37 L648.55 224.19 L648.59 223.05 L648.63 221.96 L648.67 220.92 L648.71 219.91 L648.75 218.95 L648.80 218.02 L648.84 217.12 L648.89 216.26 L648.94 215.43 L648.98 214.64 L649.03 213.87 L649.09 213.12 L649.14 212.41 L649.19 211.72 L649.24 211.06 L649.30 210.42 L649.35 209.81 L649.41 209.22 L649.47 208.65 L649.53 208.10 L649.59 207.57 L649.65 207.07 L649.71 206.58 L649.77 206.12 L649.83 205.67 L649.90 205.25 L649.96 204.84 L650.02 204.45 L650.09 204.08 L650.16 203.73 L650.22 203.39 L650.29 203.08 L650.36 202.78 L650.43 202.49 L650.50 202.23 L650.57 201.98 L650.64 201.75 L650.71 201.53 L650.78 201.34 L650.85 201.15 L650.92 200.99 L650.99 200.84 L651.07 200.71 L651.14 200.59 L651.21 200.49 L651.28 200.40 L651.36 200.33 L651.43 200.28 L651.50 200.24 L651.58 200.22 L651.65 200.21 L651.73 200.22 L651.80 200.25 L651.87 200.29 L651.95 200.35 L652.02 200.42 L652.10 200.51 L652.17 200.61 L652.24 200.73 L652.32 200.87 L652.39 201.02 L652.46 201.19 L652.53 201.38 L652.61 201.58 L652.68 201.80 L652.75 202.03 L652.82 202.28 L652.89 202.54 L652.96 202.83 L653.03 203.13 L653.10 203.44 L653.17 203.78 L653.24 204.13 L653.31 204.50 L653.38 204.88 L653.44 205.28 L653.51 205.70 L653.58 206.14 L653.64 206.60 L653.70 207.07 L653.77 207.57 L653.83 208.08 L653.89 208.61 L653.95 209.17 L654.01 209.74 L654.07 210.33 L654.13 210.95 L654.19 211.58 L654.25 212.24 L654.30 212.92 L654.36 213.62 L654.41 214.35 L654.46 215.10 L654.51 215.88 L654.57 216.68 L654.62 217.51 L654.66 218.37 L654.71 219.26 L654.76 220.18 L654.80 221.14 L654.85 222.12 L654.89 223.14 L654.93 224.20 L654.97 225.30 L655.01 226.45 L655.05 227.63 L655.09 228.87 L655.12 230.16 L655.16 231.50 L655.19 232.90 L655.22 234.37 L655.25 235.91 L655.28 237.52 L655.31 239.22 L655.33 241.01 L655.36 242.91 L655.38 243.48 M655.82 243.72 L655.84 242.72 L655.87 241.06 L655.89 239.48 L655.91 237.99 L655.94 236.56 L655.97 235.21 L656.00 233.91 L656.03 232.67 L656.06 231.48 L656.09 230.35 L656.12 229.25 L656.15 228.21 L656.19 227.20 L656.22 226.23 L656.26 225.30 L656.30 224.41 L656.34 223.54 L656.38 222.71 L656.42 221.91 L656.46 221.14 L656.50 220.40 L656.54 219.68 L656.59 218.99 L656.63 218.33 L656.68 217.69 L656.72 217.07 L656.77 216.48 L656.82 215.91 L656.87 215.36 L656.91 214.83 L656.96 214.33 L657.02 213.84 L657.07 213.38 L657.12 212.93 L657.17 212.50 L657.22 212.09 L657.28 211.70 L657.33 211.33 L657.39 210.98 L657.44 210.65 L657.50 210.33 L657.56 210.03 L657.61 209.75 L657.67 209.48 L657.73 209.24 L657.79 209.01 L657.84 208.79 L657.90 208.60 L657.96 208.41 L658.02 208.25 L658.08 208.10 L658.14 207.97 L658.20 207.86 L658.26 207.76 L658.32 207.68 L658.38 207.61 L658.44 207.56 L658.51 207.52 L658.57 207.51 L658.63 207.50 L658.69 207.52 L658.75 207.55 L658.81 207.59 L658.87 207.65 L658.93 207.73 L658.99 207.82 L659.06 207.93 L659.12 208.06 L659.18 208.20 L659.24 208.36 L659.30 208.53 L659.36 208.72 L659.42 208.93 L659.48 209.15 L659.54 209.39 L659.60 209.65 L659.66 209.92 L659.71 210.21 L659.77 210.52 L659.83 210.84 L659.89 211.18 L659.94 211.53 L660.00 211.91 L660.06 212.30 L660.11 212.71 L660.17 213.14 L660.22 213.58 L660.28 214.05 L660.33 214.53 L660.38 215.03 L660.43 215.55 L660.48 216.09 L660.54 216.65 L660.59 217.22 L660.63 217.82 L660.68 218.44 L660.73 219.09 L660.78 219.75 L660.82 220.44 L660.87 221.14 L660.91 221.88 L660.96 222.64 L661.00 223.42 L661.04 224.23 L661.08 225.06 L661.12 225.93 L661.16 226.82 L661.20 227.75 L661.24 228.71 L661.28 229.70 L661.31 230.72 L661.35 231.79 L661.38 232.89 L661.41 234.04 L661.44 235.23 L661.47 236.47 L661.50 237.76 L661.53 239.11 L661.56 240.51 L661.59 241.98 L661.61 243.52 L661.63 245.14 L661.66 246.84 L661.68 248.13 M662.11 248.47 L662.13 248.17 L662.15 246.60 L662.17 245.10 L662.19 243.68 L662.22 242.33 L662.24 241.03 L662.27 239.80 L662.29 238.61 L662.32 237.48 L662.35 236.39 L662.37 235.34 L662.40 234.34 L662.44 233.38 L662.47 232.45 L662.50 231.56 L662.53 230.70 L662.57 229.87 L662.60 229.08 L662.63 228.31 L662.67 227.57 L662.71 226.86 L662.75 226.17 L662.78 225.52 L662.82 224.88 L662.86 224.27 L662.90 223.68 L662.94 223.12 L662.98 222.57 L663.03 222.05 L663.07 221.55 L663.11 221.07 L663.16 220.61 L663.20 220.17 L663.25 219.75 L663.29 219.35 L663.34 218.97 L663.39 218.60 L663.43 218.26 L663.48 217.93 L663.53 217.62 L663.58 217.33 L663.62 217.05 L663.67 216.80 L663.72 216.56 L663.77 216.33 L663.82 216.13 L663.87 215.94 L663.92 215.76 L663.98 215.61 L664.03 215.47 L664.08 215.35 L664.13 215.24 L664.18 215.15 L664.23 215.07 L664.29 215.02 L664.34 214.97 L664.39 214.95 L664.44 214.94 L664.49 214.94 L664.55 214.97 L664.60 215.00 L664.65 215.06 L664.71 215.13 L664.76 215.22 L664.81 215.32 L664.86 215.44 L664.91 215.57 L664.97 215.72 L665.02 215.89 L665.07 216.07 L665.12 216.27 L665.17 216.48 L665.22 216.71 L665.28 216.96 L665.33 217.22 L665.38 217.50 L665.43 217.80 L665.48 218.11 L665.53 218.44 L665.58 218.79 L665.62 219.15 L665.67 219.53 L665.72 219.93 L665.77 220.34 L665.81 220.78 L665.86 221.23 L665.91 221.70 L665.95 222.18 L666.00 222.69 L666.04 223.22 L666.09 223.76 L666.13 224.32 L666.17 224.91 L666.22 225.51 L666.26 226.14 L666.30 226.78 L666.34 227.45 L666.38 228.14 L666.42 228.85 L666.45 229.59 L666.49 230.35 L666.53 231.14 L666.57 231.95 L666.60 232.79 L666.63 233.66 L666.67 234.56 L666.70 235.48 L666.73 236.44 L666.76 237.44 L666.80 238.47 L666.83 239.53 L666.85 240.64 L666.88 241.79 L666.91 242.98 L666.93 244.23 L666.96 245.52 L666.98 246.87 L667.01 248.27 L667.03 249.75 L667.05 251.29 L667.07 252.91 L667.09 253.98 M667.50 254.41 L667.52 253.83 L667.54 252.34 L667.56 250.92 L667.58 249.57 L667.60 248.29 L667.62 247.06 L667.65 245.88 L667.67 244.75 L667.70 243.67 L667.72 242.63 L667.75 241.64 L667.78 240.68 L667.80 239.76 L667.83 238.88 L667.86 238.03 L667.89 237.21 L667.92 236.42 L667.95 235.67 L667.99 234.94 L668.02 234.23 L668.05 233.56 L668.09 232.91 L668.12 232.28 L668.16 231.68 L668.19 231.10 L668.23 230.55 L668.26 230.01 L668.30 229.50 L668.34 229.01 L668.38 228.54 L668.42 228.09 L668.46 227.66 L668.50 227.25 L668.54 226.86 L668.58 226.49 L668.62 226.13 L668.66 225.79 L668.70 225.48 L668.75 225.18 L668.79 224.89 L668.83 224.63 L668.88 224.38 L668.92 224.15 L668.96 223.93 L669.01 223.74 L669.05 223.56 L669.10 223.39 L669.14 223.24 L669.19 223.11 L669.24 223.00 L669.28 222.90 L669.33 222.82 L669.37 222.75 L669.42 222.70 L669.47 222.66 L669.51 222.64 L669.56 222.64 L669.61 222.65 L669.65 222.68 L669.70 222.72 L669.75 222.78 L669.79 222.86 L669.84 222.95 L669.89 223.06 L669.93 223.18 L669.98 223.32 L670.03 223.47 L670.07 223.64 L670.12 223.83 L670.16 224.03 L670.21 224.25 L670.26 224.48 L670.30 224.74 L670.35 225.00 L670.39 225.29 L670.44 225.59 L670.48 225.91 L670.52 226.24 L670.57 226.59 L670.61 226.96 L670.65 227.34 L670.70 227.75 L670.74 228.17 L670.78 228.61 L670.82 229.06 L670.86 229.53 L670.90 230.03 L670.94 230.54 L670.98 231.07 L671.02 231.61 L671.06 232.18 L671.10 232.77 L671.14 233.38 L671.17 234.01 L671.21 234.66 L671.24 235.33 L671.28 236.02 L671.31 236.74 L671.35 237.48 L671.38 238.25 L671.41 239.04 L671.45 239.85 L671.48 240.70 L671.51 241.57 L671.54 242.47 L671.57 243.40 L671.60 244.37 L671.62 245.36 L671.65 246.40 L671.68 247.47 L671.70 248.58 L671.73 249.73 L671.75 250.92 L671.78 252.17 L671.80 253.46 L671.82 254.82 L671.84 256.23 L671.86 257.70 L671.88 259.24 L671.90 259.94 M672.30 260.47 L672.32 259.58 L672.34 258.23 L672.36 256.95 L672.38 255.72 L672.40 254.54 L672.42 253.42 L672.44 252.34 L672.46 251.30 L672.48 250.31 L672.51 249.35 L672.53 248.43 L672.55 247.55 L672.58 246.70 L672.61 245.89 L672.63 245.10 L672.66 244.34 L672.69 243.62 L672.71 242.91 L672.74 242.24 L672.77 241.59 L672.80 240.97 L672.83 240.37 L672.86 239.79 L672.89 239.24 L672.92 238.71 L672.96 238.20 L672.99 237.71 L673.02 237.24 L673.05 236.79 L673.09 236.37 L673.12 235.96 L673.16 235.57 L673.19 235.20 L673.23 234.85 L673.26 234.51 L673.30 234.20 L673.34 233.90 L673.37 233.62 L673.41 233.36 L673.45 233.11 L673.48 232.89 L673.52 232.68 L673.56 232.48 L673.60 232.30 L673.64 232.14 L673.68 232.00 L673.71 231.87 L673.75 231.76 L673.79 231.66 L673.83 231.58 L673.87 231.52 L673.91 231.47 L673.95 231.44 L673.99 231.42 L674.03 231.42 L674.07 231.44 L674.11 231.47 L674.15 231.52 L674.19 231.58 L674.23 231.66 L674.27 231.75 L674.31 231.86 L674.35 231.99 L674.39 232.13 L674.43 232.29 L674.47 232.46 L674.51 232.65 L674.55 232.85 L674.59 233.07 L674.62 233.31 L674.66 233.56 L674.70 233.83 L674.74 234.11 L674.78 234.41 L674.82 234.73 L674.85 235.07 L674.89 235.42 L674.93 235.78 L674.96 236.17 L675.00 236.57 L675.04 236.99 L675.07 237.42 L675.11 237.88 L675.14 238.35 L675.18 238.84 L675.21 239.34 L675.25 239.87 L675.28 240.42 L675.31 240.98 L675.34 241.57 L675.38 242.17 L675.41 242.80 L675.44 243.45 L675.47 244.12 L675.50 244.81 L675.53 245.52 L675.56 246.26 L675.59 247.02 L675.61 247.81 L675.64 248.62 L675.67 249.46 L675.69 250.33 L675.72 251.23 L675.75 252.16 L675.77 253.12 L675.79 254.11 L675.82 255.14 L675.84 256.21 L675.86 257.31 L675.88 258.46 L675.90 259.66 L675.92 260.90 L675.94 262.19 L675.96 263.54 L675.98 264.95 L676.00 266.42 L676.01 266.78 M676.39 267.44 L676.41 266.41 L676.43 265.12 L676.44 263.88 L676.46 262.70 L676.48 261.57 L676.50 260.49 L676.52 259.45 L676.54 258.45 L676.56 257.49 L676.58 256.56 L676.60 255.68 L676.62 254.82 L676.64 254.00 L676.67 253.21 L676.69 252.45 L676.71 251.71 L676.74 251.00 L676.76 250.32 L676.79 249.67 L676.81 249.04 L676.84 248.43 L676.87 247.85 L676.90 247.29 L676.92 246.75 L676.95 246.24 L676.98 245.74 L677.01 245.27 L677.04 244.81 L677.07 244.38 L677.10 243.97 L677.13 243.57 L677.16 243.19 L677.19 242.84 L677.22 242.50 L677.25 242.18 L677.29 241.87 L677.32 241.59 L677.35 241.32 L677.38 241.07 L677.42 240.84 L677.45 240.62 L677.48 240.42 L677.52 240.24 L677.55 240.07 L677.58 239.93 L677.62 239.79 L677.65 239.68 L677.69 239.58 L677.72 239.50 L677.76 239.43 L677.79 239.38 L677.83 239.35 L677.86 239.33 L677.89 239.33 L677.93 239.34 L677.96 239.37 L678.00 239.42 L678.04 239.48 L678.07 239.56 L678.11 239.66 L678.14 239.77 L678.17 239.90 L678.21 240.04 L678.24 240.20 L678.28 240.38 L678.31 240.57 L678.35 240.78 L678.38 241.00 L678.42 241.24 L678.45 241.50 L678.48 241.78 L678.52 242.07 L678.55 242.37 L678.58 242.70 L678.62 243.04 L678.65 243.40 L678.68 243.78 L678.71 244.17 L678.75 244.58 L678.78 245.01 L678.81 245.45 L678.84 245.92 L678.87 246.40 L678.90 246.90 L678.93 247.42 L678.96 247.96 L678.99 248.52 L679.02 249.09 L679.05 249.69 L679.08 250.31 L679.10 250.94 L679.13 251.60 L679.16 252.28 L679.19 252.98 L679.21 253.71 L679.24 254.46 L679.26 255.23 L679.29 256.03 L679.31 256.86 L679.33 257.71 L679.36 258.59 L679.38 259.49 L679.40 260.43 L679.42 261.40 L679.44 262.41 L679.46 263.45 L679.48 264.53 L679.50 265.64 L679.52 266.80 L679.54 268.00 L679.56 269.25 L679.57 270.55 L679.59 271.91 L679.61 273.33 L679.62 274.34 M679.98 275.07 L680.00 273.91 L680.01 272.68 L680.02 271.49 L680.04 270.36 L680.06 269.28 L680.07 268.24 L680.09 267.24 L680.11 266.28 L680.13 265.36 L680.14 264.47 L680.16 263.62 L680.18 262.79 L680.20 262.00 L680.22 261.24 L680.24 260.51 L680.26 259.81 L680.29 259.13 L680.31 258.48 L680.33 257.85 L680.35 257.24 L680.38 256.66 L680.40 256.11 L680.42 255.57 L680.45 255.06 L680.47 254.57 L680.50 254.10 L680.52 253.65 L680.55 253.22 L680.57 252.81 L680.60 252.42 L680.63 252.05 L680.65 251.70 L680.68 251.37 L680.71 251.05 L680.73 250.76 L680.76 250.48 L680.79 250.22 L680.82 249.98 L680.85 249.75 L680.88 249.55 L680.90 249.36 L680.93 249.19 L680.96 249.03 L680.99 248.89 L681.02 248.77 L681.05 248.67 L681.08 248.58 L681.11 248.51 L681.14 248.45 L681.17 248.42 L681.20 248.40 L681.23 248.39 L681.26 248.40 L681.29 248.43 L681.32 248.48 L681.35 248.54 L681.38 248.61 L681.41 248.71 L681.44 248.82 L681.47 248.94 L681.50 249.08 L681.53 249.24 L681.56 249.42 L681.59 249.61 L681.62 249.81 L681.65 250.04 L681.68 250.28 L681.71 250.53 L681.74 250.80 L681.77 251.09 L681.80 251.40 L681.82 251.72 L681.85 252.06 L681.88 252.41 L681.91 252.78 L681.94 253.17 L681.97 253.58 L681.99 254.00 L682.02 254.44 L682.05 254.90 L682.07 255.37 L682.10 255.86 L682.13 256.38 L682.15 256.91 L682.18 257.45 L682.20 258.02 L682.23 258.61 L682.25 259.21 L682.28 259.84 L682.30 260.48 L682.32 261.15 L682.35 261.84 L682.37 262.55 L682.39 263.28 L682.41 264.04 L682.44 264.82 L682.46 265.63 L682.48 266.46 L682.50 267.31 L682.52 268.20 L682.54 269.11 L682.56 270.06 L682.57 271.03 L682.59 272.04 L682.61 273.09 L682.63 274.17 L682.64 275.29 L682.66 276.45 L682.68 277.66 L682.69 278.91 L682.70 280.22 L682.72 281.30 M683.07 282.08 L683.09 282.00 L683.10 280.78 L683.11 279.60 L683.13 278.48 L683.14 277.40 L683.16 276.37 L683.18 275.38 L683.19 274.42 L683.21 273.51 L683.23 272.63 L683.25 271.78 L683.26 270.97 L683.28 270.19 L683.30 269.43 L683.32 268.71 L683.34 268.01 L683.36 267.34 L683.38 266.70 L683.40 266.08 L683.43 265.48 L683.45 264.91 L683.47 264.36 L683.49 263.83 L683.52 263.33 L683.54 262.84 L683.56 262.38 L683.59 261.94 L683.61 261.52 L683.64 261.11 L683.66 260.73 L683.69 260.37 L683.71 260.02 L683.74 259.69 L683.76 259.39 L683.79 259.10 L683.82 258.82 L683.84 258.57 L683.87 258.33 L683.90 258.11 L683.92 257.91 L683.95 257.72 L683.98 257.55 L684.01 257.40 L684.03 257.27 L684.06 257.15 L684.09 257.04 L684.12 256.96 L684.15 256.89 L684.18 256.84 L684.20 256.80 L684.23 256.78 L684.26 256.77 L684.29 256.79 L684.32 256.81 L684.35 256.86 L684.38 256.92 L684.41 256.99 L684.43 257.08 L684.46 257.19 L684.49 257.32 L684.52 257.46 L684.55 257.61 L684.58 257.78 L684.61 257.97 L684.63 258.17 L684.66 258.39 L684.69 258.63 L684.72 258.88 L684.75 259.15 L684.77 259.44 L684.80 259.74 L684.83 260.05 L684.86 260.39 L684.88 260.74 L684.91 261.11 L684.94 261.49 L684.96 261.89 L684.99 262.31 L685.02 262.75 L685.04 263.20 L685.07 263.67 L685.09 264.16 L685.12 264.67 L685.14 265.20 L685.17 265.74 L685.19 266.31 L685.21 266.89 L685.24 267.49 L685.26 268.12 L685.28 268.76 L685.30 269.43 L685.33 270.11 L685.35 270.82 L685.37 271.55 L685.39 272.31 L685.41 273.09 L685.43 273.89 L685.45 274.72 L685.47 275.58 L685.49 276.46 L685.51 277.38 L685.53 278.32 L685.54 279.30 L685.56 280.31 L685.58 281.35 L685.59 282.43 L685.61 283.55 L685.62 284.71 L685.64 285.92 L685.65 287.17 L685.67 288.19 M686.03 289.03 L686.05 288.85 L686.06 287.74 L686.07 286.66 L686.09 285.64 L686.10 284.65 L686.12 283.71 L686.13 282.80 L686.15 281.93 L686.16 281.09 L686.18 280.28 L686.20 279.51 L686.22 278.76 L686.23 278.05 L686.25 277.36 L686.27 276.70 L686.29 276.06 L686.31 275.45 L686.33 274.86 L686.35 274.30 L686.37 273.76 L686.39 273.24 L686.41 272.75 L686.43 272.27 L686.45 271.82 L686.47 271.39 L686.50 270.97 L686.52 270.58 L686.54 270.21 L686.56 269.85 L686.59 269.52 L686.61 269.20 L686.63 268.90 L686.66 268.62 L686.68 268.36 L686.70 268.11 L686.73 267.88 L686.75 267.67 L686.78 267.48 L686.80 267.30 L686.83 267.14 L686.85 266.99 L686.88 266.87 L686.90 266.76 L686.93 266.66 L686.95 266.58 L686.98 266.52 L687.01 266.47 L687.03 266.44 L687.06 266.43 L687.08 266.43 L687.11 266.45 L687.13 266.48 L687.16 266.53 L687.19 266.59 L687.21 266.67 L687.24 266.77 L687.26 266.88 L687.29 267.00 L687.32 267.15 L687.34 267.30 L687.37 267.48 L687.39 267.66 L687.42 267.87 L687.44 268.09 L687.47 268.32 L687.49 268.58 L687.52 268.84 L687.54 269.13 L687.57 269.42 L687.59 269.74 L687.62 270.07 L687.64 270.42 L687.67 270.78 L687.69 271.16 L687.72 271.56 L687.74 271.97 L687.76 272.40 L687.79 272.84 L687.81 273.31 L687.83 273.79 L687.85 274.29 L687.88 274.80 L687.90 275.34 L687.92 275.89 L687.94 276.46 L687.96 277.06 L687.98 277.67 L688.00 278.30 L688.02 278.95 L688.04 279.63 L688.06 280.32 L688.08 281.04 L688.10 281.78 L688.12 282.55 L688.14 283.34 L688.16 284.15 L688.17 285.00 L688.19 285.87 L688.21 286.77 L688.22 287.70 L688.24 288.66 L688.26 289.66 L688.27 290.69 L688.28 291.76 L688.30 292.87 L688.31 294.02 L688.33 295.21 L688.34 295.35 M688.70 296.41 L688.71 295.86 L688.73 294.82 L688.74 293.82 L688.75 292.86 L688.77 291.94 L688.78 291.05 L688.80 290.19 L688.81 289.37 L688.83 288.58 L688.84 287.82 L688.86 287.08 L688.87 286.37 L688.89 285.69 L688.91 285.04 L688.92 284.41 L688.94 283.80 L688.96 283.22 L688.98 282.66 L688.99 282.12 L689.01 281.60 L689.03 281.10 L689.05 280.63 L689.07 280.17 L689.09 279.74 L689.11 279.32 L689.13 278.93 L689.15 278.55 L689.17 278.19 L689.19 277.85 L689.21 277.53 L689.23 277.22 L689.25 276.94 L689.28 276.67 L689.30 276.41 L689.32 276.18 L689.34 275.96 L689.36 275.76 L689.38 275.58 L689.41 275.42 L689.43 275.27 L689.45 275.13 L689.47 275.02 L689.50 274.92 L689.52 274.84 L689.54 274.77 L689.56 274.72 L689.59 274.69 L689.61 274.67 L689.63 274.67 L689.66 274.68 L689.68 274.71 L689.70 274.76 L689.73 274.83 L689.75 274.91 L689.77 275.00 L689.79 275.12 L689.82 275.25 L689.84 275.39 L689.86 275.55 L689.89 275.73 L689.91 275.93 L689.93 276.14 L689.95 276.37 L689.98 276.61 L690.00 276.87 L690.02 277.15 L690.04 277.45 L690.06 277.76 L690.09 278.09 L690.11 278.43 L690.13 278.80 L690.15 279.18 L690.17 279.57 L690.19 279.99 L690.21 280.42 L690.23 280.87 L690.26 281.34 L690.28 281.83 L690.30 282.34 L690.32 282.86 L690.33 283.41 L690.35 283.97 L690.37 284.55 L690.39 285.16 L690.41 285.78 L690.43 286.42 L690.45 287.09 L690.46 287.78 L690.48 288.49 L690.50 289.22 L690.52 289.97 L690.53 290.76 L690.55 291.56 L690.56 292.39 L690.58 293.25 L690.59 294.14 L690.61 295.06 L690.62 296.01 L690.64 296.99 L690.65 298.00 L690.66 299.05 L690.68 300.14 L690.69 301.26 L690.70 302.43 L690.71 303.59 M691.05 304.84 L691.06 304.62 L691.07 303.60 L691.09 302.63 L691.10 301.70 L691.11 300.80 L691.12 299.95 L691.14 299.12 L691.15 298.33 L691.16 297.57 L691.18 296.85 L691.19 296.15 L691.21 295.48 L691.22 294.84 L691.24 294.22 L691.25 293.63 L691.27 293.07 L691.28 292.53 L691.30 292.01 L691.32 291.51 L691.33 291.04 L691.35 290.59 L691.37 290.17 L691.38 289.76 L691.40 289.38 L691.42 289.01 L691.44 288.67 L691.46 288.34 L691.47 288.04 L691.49 287.75 L691.51 287.49 L691.53 287.24 L691.55 287.01 L691.57 286.80 L691.59 286.61 L691.61 286.43 L691.63 286.28 L691.65 286.14 L691.67 286.02 L691.69 285.91 L691.71 285.83 L691.73 285.76 L691.75 285.70 L691.77 285.67 L691.79 285.65 L691.81 285.65 L691.83 285.66 L691.85 285.69 L691.87 285.74 L691.89 285.80 L691.91 285.88 L691.93 285.98 L691.96 286.09 L691.98 286.22 L692.00 286.37 L692.02 286.53 L692.04 286.70 L692.06 286.90 L692.08 287.10 L692.10 287.33 L692.12 287.57 L692.14 287.83 L692.16 288.10 L692.18 288.39 L692.20 288.69 L692.22 289.01 L692.24 289.35 L692.26 289.70 L692.28 290.07 L692.30 290.45 L692.32 290.85 L692.34 291.27 L692.36 291.70 L692.38 292.15 L692.40 292.62 L692.42 293.10 L692.44 293.60 L692.45 294.12 L692.47 294.65 L692.49 295.20 L692.51 295.77 L692.53 296.36 L692.54 296.97 L692.56 297.59 L692.58 298.23 L692.60 298.90 L692.61 299.58 L692.63 300.28 L692.64 301.00 L692.66 301.75 L692.67 302.51 L692.69 303.30 L692.70 304.11 L692.72 304.95 L692.73 305.81 L692.75 306.70 L692.76 307.61 L692.77 308.55 L692.79 309.52 L692.80 310.53 L692.81 311.56 L692.82 312.28 M693.23 313.99 L693.24 313.78 L693.25 312.96 L693.27 312.18 L693.28 311.42 L693.29 310.70 L693.30 310.01 L693.32 309.34 L693.33 308.70 L693.34 308.09 L693.36 307.50 L693.37 306.94 L693.39 306.40 L693.40 305.88 L693.42 305.39 L693.43 304.91 L693.45 304.46 L693.46 304.03 L693.48 303.63 L693.50 303.24 L693.51 302.87 L693.53 302.52 L693.55 302.19 L693.56 301.88 L693.58 301.58 L693.60 301.31 L693.61 301.05 L693.63 300.81 L693.65 300.59 L693.67 300.38 L693.68 300.20 L693.70 300.02 L693.72 299.87 L693.74 299.73 L693.76 299.61 L693.78 299.51 L693.79 299.42 L693.81 299.34 L693.83 299.29 L693.85 299.25 L693.87 299.22 L693.89 299.21 L693.91 299.22 L693.93 299.24 L693.94 299.28 L693.96 299.34 L693.98 299.41 L694.00 299.49 L694.02 299.59 L694.04 299.71 L694.06 299.84 L694.08 299.99 L694.10 300.15 L694.11 300.33 L694.13 300.53 L694.15 300.74 L694.17 300.96 L694.19 301.20 L694.21 301.46 L694.23 301.73 L694.25 302.02 L694.26 302.32 L694.28 302.64 L694.30 302.98 L694.32 303.33 L694.34 303.70 L694.35 304.08 L694.37 304.48 L694.39 304.90 L694.41 305.34 L694.42 305.79 L694.44 306.25 L694.46 306.74 L694.47 307.24 L694.49 307.76 L694.51 308.30 L694.52 308.86 L694.54 309.43 L694.55 310.02 L694.57 310.64 L694.59 311.27 L694.60 311.92 L694.61 312.59 L694.63 313.29 L694.64 314.00 L694.66 314.74 L694.67 315.50 L694.69 316.29 L694.70 317.10 L694.71 317.93 L694.72 318.79 L694.74 319.68 L694.75 320.60 L694.76 320.93 M695.20 322.90 L695.21 322.55 L695.22 321.80 L695.23 321.09 L695.24 320.40 L695.26 319.74 L695.27 319.10 L695.28 318.49 L695.30 317.91 L695.31 317.35 L695.32 316.81 L695.34 316.29 L695.35 315.79 L695.36 315.32 L695.38 314.87 L695.39 314.44 L695.41 314.02 L695.42 313.63 L695.44 313.26 L695.45 312.90 L695.47 312.57 L695.48 312.25 L695.50 311.95 L695.52 311.67 L695.53 311.41 L695.55 311.17 L695.56 310.94 L695.58 310.73 L695.60 310.54 L695.61 310.36 L695.63 310.20 L695.65 310.06 L695.66 309.94 L695.68 309.83 L695.70 309.73 L695.72 309.66 L695.73 309.60 L695.75 309.55 L695.77 309.53 L695.78 309.51 L695.80 309.52 L695.82 309.54 L695.84 309.57 L695.85 309.63 L695.87 309.69 L695.89 309.78 L695.91 309.88 L695.92 309.99 L695.94 310.12 L695.96 310.27 L695.98 310.43 L695.99 310.61 L696.01 310.81 L696.03 311.02 L696.04 311.24 L696.06 311.48 L696.08 311.74 L696.10 312.02 L696.11 312.31 L696.13 312.61 L696.15 312.94 L696.16 313.27 L696.18 313.63 L696.19 314.00 L696.21 314.39 L696.23 314.79 L696.24 315.22 L696.26 315.66 L696.27 316.11 L696.29 316.59 L696.31 317.08 L696.32 317.59 L696.34 318.11 L696.35 318.66 L696.36 319.23 L696.38 319.81 L696.39 320.41 L696.41 321.04 L696.42 321.68 L696.43 322.35 L696.45 323.03 L696.46 323.74 L696.47 324.47 L696.49 325.22 L696.50 326.00 L696.51 326.80 L696.52 327.63 L696.53 328.49 L696.55 329.37 L696.56 329.68 M696.98 331.88 L696.99 331.26 L697.00 330.54 L697.01 329.85 L697.02 329.19 L697.04 328.55 L697.05 327.94 L697.06 327.35 L697.07 326.79 L697.08 326.24 L697.10 325.72 L697.11 325.23 L697.12 324.75 L697.14 324.30 L697.15 323.86 L697.16 323.45 L697.18 323.06 L697.19 322.68 L697.20 322.33 L697.22 321.99 L697.23 321.67 L697.25 321.37 L697.26 321.09 L697.28 320.83 L697.29 320.58 L697.31 320.36 L697.32 320.14 L697.34 319.95 L697.35 319.78 L697.37 319.62 L697.38 319.47 L697.40 319.35 L697.41 319.24 L697.43 319.15 L697.45 319.07 L697.46 319.01 L697.48 318.97 L697.49 318.95 L697.51 318.93 L697.53 318.94 L697.54 318.96 L697.56 319.00 L697.57 319.05 L697.59 319.12 L697.61 319.21 L697.62 319.31 L697.64 319.43 L697.65 319.56 L697.67 319.71 L697.68 319.88 L697.70 320.06 L697.72 320.26 L697.73 320.47 L697.75 320.70 L697.76 320.95 L697.78 321.21 L697.79 321.49 L697.81 321.78 L697.83 322.09 L697.84 322.42 L697.86 322.76 L697.87 323.12 L697.89 323.50 L697.90 323.89 L697.92 324.30 L697.93 324.73 L697.94 325.17 L697.96 325.63 L697.97 326.11 L697.99 326.61 L698.00 327.12 L698.02 327.65 L698.03 328.20 L698.04 328.77 L698.06 329.36 L698.07 329.97 L698.08 330.60 L698.09 331.25 L698.11 331.92 L698.12 332.61 L698.13 333.32 L698.14 334.06 L698.15 334.82 L698.17 335.60 L698.18 336.41 L698.19 337.24 L698.20 338.10 L698.21 338.99 L698.22 339.23" fill="none" stroke="#ff0000" stroke-width="3.45" stroke-linecap="butt" stroke-linejoin="round"/>
<path d="M683.89 284.00 L684.52 286.00 L685.16 288.00 L685.80 290.00 L686.44 292.00 L687.06 294.00 L687.65 296.00 L688.18 298.00 L688.66 300.00 L689.12 302.00 L689.56 304.00 L689.98 306.00 L690.38 308.00 L690.79 310.00 L691.19 312.00 L691.59 314.00 L692.01 316.00 L692.44 318.00 L692.88 320.00 L693.32 322.00 L693.73 324.00 L694.11 326.00 L694.45 328.00 L694.78 330.00 L695.10 332.00 L695.40 334.00 L695.71 336.00 L696.03 338.00 L696.35 340.00 L696.69 342.00 L697.05 344.00 L697.42 346.00 L697.78 348.00 L698.13 350.00 L698.45 352.00 L698.74 354.00 L699.02 356.00 L699.30 358.00 L699.56 360.00 L699.82 362.00 L700.07 364.00 L700.32 366.00 L700.56 368.00 L700.79 370.00 L701.01 372.00 L701.23 374.00 L701.44 376.00 L701.65 378.00 L701.85 380.00 L702.05 382.00 L702.23 384.00 L702.42 386.00 L702.60 388.00 L702.77 390.00 L702.95 392.00 L703.12 394.00 L703.28 396.00 L703.45 398.00 L703.61 400.00 L703.77 402.00 L703.93 404.00 L704.09 406.00 L704.25 408.00 L704.40 410.00 L704.56 412.00 L704.71 414.00 L704.85 416.00 L705.00 418.00 L709.00 418.00 L708.87 416.00 L708.74 414.00 L708.60 412.00 L708.47 410.00 L708.33 408.00 L708.19 406.00 L708.04 404.00 L707.90 402.00 L707.75 400.00 L707.60 398.00 L707.45 396.00 L707.29 394.00 L707.14 392.00 L706.98 390.00 L706.82 388.00 L706.66 386.00 L706.49 384.00 L706.32 382.00 L706.15 380.00 L705.98 378.00 L705.81 376.00 L705.64 374.00 L705.47 372.00 L705.29 370.00 L705.12 368.00 L704.94 366.00 L704.76 364.00 L704.57 362.00 L704.37 360.00 L704.16 358.00 L703.95 356.00 L703.72 354.00 L703.47 352.00 L703.20 350.00 L702.89 348.00 L702.57 346.00 L702.25 344.00 L701.94 342.00 L701.65 340.00 L701.39 338.00 L701.14 336.00 L700.91 334.00 L700.68 332.00 L700.44 330.00 L700.18 328.00 L699.89 326.00 L699.56 324.00 L699.19 322.00 L698.79 320.00 L698.38 318.00 L697.99 316.00 L697.64 314.00 L697.32 312.00 L697.02 310.00 L696.74 308.00 L696.46 306.00 L696.17 304.00 L695.86 302.00 L695.53 300.00 L695.16 298.00 L694.74 296.00 L694.26 294.00 L693.75 292.00 L693.22 290.00 L692.70 288.00 L692.18 286.00 L691.66 284.00Z" fill="#ff0000"/>
<path d="M705.35 419.60 L708.95 419.60 L710.81 443.50 L710.51 443.50Z M707.30 444.10 L710.80 444.10 L711.37 453.60 L707.87 453.60Z M708.08 457.70 L711.58 457.70 L711.98 465.20 L708.48 465.20Z M708.77 469.70 L712.17 469.70 L712.62 478.30 L709.22 478.30Z M709.42 482.30 L712.82 482.30 L713.23 490.40 L709.83 490.40Z M710.16 495.90 L713.46 495.90 L713.81 503.90 L710.51 503.90Z M710.78 510.20 L713.98 510.20 L714.21 517.00 L711.01 517.00Z M711.31 523.80 L714.41 523.80 L714.74 530.60 L711.64 530.60Z M712.09 537.40 L715.09 537.40 L715.32 543.60 L712.32 543.60Z M712.56 551.50 L715.46 551.50 L715.58 557.80 L712.68 557.80Z M712.94 566.20 L715.74 566.20 L715.94 571.30 L713.14 571.30Z M713.70 580.40 L716.30 580.40 L716.47 585.60 L713.87 585.60Z M714.07 595.00 L716.67 595.00 L716.74 599.80 L714.14 599.80Z M714.47 609.90 L716.67 609.90 L716.74 614.30 L714.54 614.30Z M715.07 625.00 L716.57 625.00 L716.62 628.40 L715.12 628.40Z M715.53 640.70 L716.53 640.70 L716.57 643.80 L715.57 643.80Z" fill="#ff0000"/>
<path d="M60.31 141.35 L61.30 141.29 L62.44 141.26 L63.61 141.23 L64.79 141.19 L65.96 141.16 L67.13 141.13 L68.30 141.09 L69.47 141.06 L70.65 141.02 L71.82 140.99 L72.99 140.96 L74.16 140.92 L75.34 140.89 L76.51 140.85 L77.68 140.82 L78.85 140.79 L80.03 140.75 L81.20 140.72 L82.37 140.68 L83.55 140.65 L84.72 140.62 L85.89 140.58 L87.07 140.55 L88.24 140.51 L89.41 140.48 L90.59 140.44 L91.76 140.41 L92.93 140.37 L94.11 140.34 L95.28 140.30 L96.45 140.27 L97.63 140.24 L98.80 140.20 L99.97 140.17 L101.15 140.13 L102.32 140.10 L103.50 140.06 L104.67 140.03 L105.85 139.99 L107.02 139.96 L108.19 139.92 L109.37 139.89 L110.54 139.85 L111.72 139.82 L112.89 139.78 L114.07 139.74 L115.24 139.71 L116.42 139.67 L117.59 139.64 L118.76 139.60 L119.94 139.57 L121.11 139.53 L122.29 139.50 L123.46 139.46 L124.64 139.42 L125.81 139.39 L126.99 139.35 L128.16 139.32 L129.34 139.28 L130.51 139.25 L131.69 139.21 L132.86 139.17 L134.04 139.14 L135.22 139.10 L136.39 139.06 L137.57 139.03 L138.74 138.99 L139.92 138.96 L141.09 138.92 L142.27 138.88 L143.44 138.85 L144.62 138.81 L145.80 138.77 L146.97 138.74 L148.15 138.70 L149.32 138.66 L150.50 138.63 L151.67 138.59 L152.85 138.55 L154.03 138.52 L155.20 138.48 L156.38 138.44 L157.55 138.41 L158.73 138.37 L159.91 138.33 L161.08 138.29 L162.26 138.26 L163.43 138.22 L164.61 138.18 L165.79 138.14 L166.96 138.11 L168.14 138.07 L169.32 138.03 L170.49 137.99 L171.67 137.96 L172.84 137.92 L174.02 137.88 L175.20 137.84 L176.37 137.81 L177.55 137.77 L178.73 137.73 L179.90 137.69 L181.08 137.65 L182.26 137.62 L183.43 137.58 L184.61 137.54 L185.79 137.50 L186.96 137.46 L188.14 137.42 L189.32 137.39 L190.49 137.35 L191.67 137.31 L192.84 137.27 L194.02 137.23 L195.20 137.19 L196.37 137.15 L197.55 137.11 L198.73 137.08 L199.90 137.04 L201.08 137.00 L202.26 136.96 L203.43 136.92 L204.61 136.88 L205.79 136.84 L206.96 136.80 L208.14 136.76 L209.32 136.72 L210.49 136.68 L211.67 136.64 L212.85 136.61 L214.02 136.57 L215.20 136.53 L216.38 136.49 L217.55 136.45 L218.73 136.41 L219.91 136.37 L221.08 136.33 L222.26 136.29 L223.44 136.25 L224.61 136.21 L225.79 136.17 L226.97 136.13 L228.14 136.09 L229.32 136.05 L230.50 136.01 L231.67 135.96 L232.85 135.92 L234.03 135.88 L235.20 135.84 L236.38 135.80 L237.56 135.76 L238.73 135.72 L239.91 135.68 L241.09 135.64 L242.26 135.60 L243.44 135.56 L244.62 135.52 L245.79 135.47 L246.97 135.43 L248.15 135.39 L249.32 135.35 L250.50 135.31 L251.67 135.27 L252.85 135.23 L254.03 135.18 L255.20 135.14 L256.38 135.10 L257.56 135.06 L258.73 135.02 L259.91 134.98 L261.08 134.93 L262.26 134.89 L263.44 134.85 L264.61 134.81 L265.79 134.76 L266.96 134.72 L268.14 134.68 L269.32 134.64 L270.49 134.60 L271.67 134.55 L272.84 134.51 L274.02 134.47 L275.20 134.42 L276.37 134.38 L277.55 134.34 L278.72 134.30 L279.90 134.25 L281.07 134.21 L282.25 134.17 L283.43 134.12 L284.60 134.08 L285.78 134.04 L286.95 133.99 L288.13 133.95 L289.30 133.91 L290.48 133.86 L291.65 133.82 L292.83 133.78 L294.00 133.73 L295.18 133.69 L296.35 133.64 L297.53 133.60 L298.70 133.56 L299.88 133.51 L301.05 133.47 L302.23 133.42 L303.40 133.38 L304.58 133.33 L305.75 133.29 L306.93 133.24 L308.10 133.20 L309.28 133.16 L310.45 133.11 L311.63 133.07 L312.80 133.02 L313.97 132.98 L315.15 132.93 L316.32 132.89 L317.50 132.84 L318.67 132.80 L319.85 132.75 L321.02 132.70 L322.19 132.66 L323.37 132.61 L324.54 132.57 L325.72 132.52 L326.89 132.48 L328.06 132.43 L329.24 132.38 L330.41 132.34 L331.58 132.29 L332.76 132.25 L333.93 132.20 L335.10 132.15 L336.28 132.11 L337.45 132.06 L338.62 132.01 L339.80 131.97 L340.97 131.92 L342.14 131.88 L343.32 131.83 L344.49 131.78 L345.66 131.73 L346.83 131.69 L348.01 131.64 L349.18 131.59 L350.35 131.55 L351.53 131.50 L352.70 131.45 L353.87 131.41 L355.04 131.36 L356.22 131.31 L357.39 131.27 L358.56 131.22 L359.73 131.17 L360.90 131.12 L362.08 131.08 L363.25 131.03 L364.42 130.98 L365.59 130.93 L366.77 130.89 L367.94 130.84 L369.11 130.79 L370.28 130.75 L371.45 130.70 L372.63 130.65 L373.80 130.60 L374.97 130.56 L376.14 130.51 L377.31 130.46 L378.49 130.42 L379.66 130.37 L380.83 130.32 L382.00 130.27 L383.17 130.23 L384.35 130.18 L385.52 130.13 L386.69 130.09 L387.86 130.04 L389.03 129.99 L390.21 129.94 L391.38 129.90 L392.55 129.85 L393.72 129.80 L394.89 129.76 L396.06 129.71 L397.24 129.66 L398.41 129.62 L399.58 129.57 L400.75 129.52 L401.92 129.48 L403.10 129.43 L404.27 129.38 L405.44 129.34 L406.61 129.29 L407.78 129.24 L408.96 129.20 L410.13 129.15 L411.30 129.11 L412.47 129.06 L413.64 129.01 L414.82 128.97 L415.99 128.92 L417.16 128.88 L418.33 128.83 L419.51 128.79 L420.68 128.74 L421.85 128.69 L423.02 128.65 L424.19 128.60 L425.37 128.56 L426.54 128.51 L427.71 128.47 L428.88 128.42 L430.06 128.38 L431.23 128.34 L432.40 128.29 L433.58 128.25 L434.75 128.20 L435.92 128.16 L437.09 128.11 L438.27 128.07 L439.44 128.03 L440.61 127.98 L441.79 127.94 L442.96 127.90 L444.13 127.85 L445.31 127.81 L446.48 127.77 L447.65 127.72 L448.83 127.68 L450.00 127.64 L451.17 127.60 L452.35 127.55 L453.52 127.51 L454.69 127.47 L455.87 127.43 L457.04 127.39 L458.22 127.34 L459.39 127.30 L460.56 127.26 L461.74 127.22 L462.91 127.18 L464.09 127.14 L465.26 127.10 L466.44 127.06 L467.61 127.02 L468.78 126.98 L469.96 126.94 L471.13 126.90 L472.31 126.86 L473.48 126.82 L474.66 126.78 L475.83 126.74 L477.01 126.70 L478.19 126.66 L479.36 126.62 L480.54 126.59 L481.71 126.55 L482.89 126.51 L484.06 126.47 L485.24 126.44 L486.42 126.40 L487.59 126.36 L488.77 126.32 L489.95 126.29 L491.12 126.25 L492.30 126.22 L493.48 126.18 L494.65 126.14 L495.83 126.11 L497.01 126.07 L498.18 126.04 L499.36 126.00 L500.54 125.97 L501.72 125.93 L502.89 125.90 L504.07 125.87 L505.25 125.83 L506.43 125.80 L507.61 125.76 L508.78 125.73 L509.96 125.70 L511.14 125.67 L512.32 125.63 L513.50 125.60 L514.68 125.57 L515.86 125.54 L517.04 125.51 L518.21 125.48 L519.39 125.45 L520.57 125.42 L521.75 125.38 L522.93 125.35 L524.11 125.33 L525.29 125.30 L526.47 125.27 L527.65 125.24 L528.84 125.21 L530.02 125.18 L531.20 125.15 L532.38 125.13 L533.56 125.10 L534.74 125.07 L535.92 125.04 L537.10 125.02 L538.29 124.99 L539.47 124.96 L540.65 124.94 L541.83 124.91 L543.01 124.89 L544.20 124.86 L545.38 124.84 L546.56 124.82 L547.74 124.80 L548.92 124.78 L550.10 124.76 L551.28 124.74 L552.47 124.72 L553.65 124.71 L554.83 124.69 L556.00 124.68 L557.18 124.67 L558.36 124.67 L559.54 124.66 L560.72 124.66 L561.89 124.66 L563.07 124.66 L564.25 124.67 L565.42 124.68 L566.60 124.69 L567.77 124.70 L568.94 124.72 L570.11 124.74 L571.29 124.77 L572.46 124.80 L573.63 124.83 L574.79 124.87 L575.96 124.91 L577.13 124.96 L578.30 125.00 L579.46 125.06 L580.62 125.12 L581.79 125.18 L582.95 125.25 L584.11 125.32 L585.27 125.40 L586.43 125.49 L587.58 125.58 L588.74 125.67 L589.90 125.77 L591.05 125.88 L592.20 125.99 L593.35 126.11 L594.50 126.24 L595.65 126.37 L596.79 126.51 L597.94 126.65 L599.08 126.80 L600.23 126.96 L601.37 127.13 L602.50 127.30 L603.64 127.48 L604.78 127.66 L605.91 127.86 L607.04 128.06 L608.17 128.27 L609.30 128.49 L610.43 128.71 L611.56 128.95 L612.68 129.19 L613.80 129.44 L614.92 129.70 L616.04 129.97 L617.16 130.24 L618.27 130.53 L619.38 130.82 L620.49 131.12 L621.60 131.44 L622.71 131.76 L623.81 132.09 L624.91 132.43 L626.01 132.78 L627.11 133.15 L628.21 133.52 L629.30 133.90 L630.39 134.29 L631.48 134.69 L632.57 135.11 L633.65 135.53 L634.73 135.96 L635.81 136.41 L636.88 136.86 L637.95 137.33 L639.01 137.81 L640.06 138.31 L641.11 138.81 L642.15 139.33 L643.18 139.86 L644.20 140.41 L645.21 140.97 L646.21 141.54 L647.20 142.13 L648.18 142.73 L649.15 143.35 L650.10 143.98 L651.04 144.63 L651.97 145.29 L652.88 145.98 L653.78 146.67 L654.66 147.39 L655.52 148.12 L656.37 148.87 L657.20 149.64 L658.02 150.42 L658.81 151.23 L659.59 152.05 L660.35 152.90 L661.09 153.77 L661.83 154.65 L662.55 155.56 L663.26 156.47 L663.96 157.41 L664.66 158.35 L665.35 159.30 L666.04 160.26 L666.73 161.22 L667.41 162.18 L668.08 163.15 L668.75 164.12 L669.42 165.09 L670.07 166.07 L670.72 167.04 L671.36 168.02 L672.00 169.01 L672.63 169.99 L673.24 170.99 L673.85 171.98 L674.45 172.98 L675.05 173.98 L675.63 174.98 L676.20 175.99 L676.76 177.01 L677.31 178.02 L677.84 179.04 L678.37 180.07 L678.88 181.10 L679.39 182.14 L679.88 183.18 L680.35 184.22 L680.82 185.28 L681.28 186.33 L681.73 187.39 L682.16 188.46 L682.59 189.53 L683.00 190.60 L683.41 191.68 L683.81 192.77 L684.19 193.85 L684.57 194.95 L684.94 196.04 L685.30 197.14 L685.65 198.24 L686.00 199.35 L686.33 200.46 L686.66 201.57 L686.98 202.69 L687.30 203.81 L687.60 204.93 L687.90 206.05 L688.20 207.18 L688.48 208.31 L688.76 209.44 L689.04 210.58 L689.31 211.72 L689.57 212.86 L689.83 214.00 L690.08 215.14 L690.33 216.29 L690.58 217.43 L690.82 218.58 L691.05 219.73 L691.29 220.88 L691.51 222.03 L691.74 223.19 L691.96 224.34 L692.18 225.50 L692.40 226.65 L692.61 227.81 L692.82 228.96 L693.03 230.12 L693.24 231.28 L693.44 232.43 L693.64 233.59 L693.84 234.75 L694.04 235.91 L694.24 237.07 L694.43 238.22 L694.62 239.38 L694.81 240.54 L695.00 241.70 L695.18 242.86 L695.37 244.02 L695.55 245.18 L695.72 246.34 L695.90 247.50 L696.08 248.66 L696.25 249.82 L696.42 250.98 L696.59 252.14 L696.76 253.30 L696.92 254.46 L697.08 255.62 L697.25 256.78 L697.41 257.95 L697.56 259.11 L697.72 260.27 L697.87 261.43 L698.03 262.60 L698.18 263.76 L698.33 264.92 L698.48 266.08 L698.62 267.25 L698.77 268.41 L698.91 269.58 L699.05 270.74 L699.19 271.90 L699.33 273.07 L699.47 274.23 L699.61 275.40 L699.74 276.56 L699.87 277.73 L700.01 278.89 L700.14 280.06 L700.27 281.22 L700.39 282.39 L700.52 283.55 L700.65 284.72 L700.77 285.89 L700.89 287.05 L701.02 288.22 L701.14 289.39 L701.26 290.55 L701.38 291.72 L701.49 292.89 L701.61 294.05 L701.73 295.22 L701.84 296.39 L701.96 297.56 L702.07 298.72 L702.18 299.89 L702.29 301.06 L702.40 302.23 L702.51 303.40 L702.62 304.56 L702.73 305.73 L702.84 306.90 L702.94 308.07 L703.05 309.24 L703.15 310.41 L703.26 311.58 L703.36 312.75 L703.46 313.92 L703.57 315.09 L703.67 316.26 L703.77 317.43 L703.87 318.59 L703.97 319.76 L704.07 320.93 L704.17 322.10 L704.27 323.28 L704.37 324.45 L704.47 325.62 L704.56 326.79 L704.66 327.96 L704.76 329.13 L704.85 330.30 L704.95 331.47 L705.04 332.64 L705.14 333.81 L705.23 334.98 L705.32 336.15 L705.42 337.32 L705.51 338.49 L705.60 339.67 L705.69 340.84 L705.78 342.01 L705.87 343.18 L705.96 344.35 L706.05 345.52 L706.14 346.69 L706.22 347.87 L706.31 349.04 L706.40 350.21 L706.49 351.38 L706.57 352.55 L706.66 353.72 L706.74 354.90 L706.83 356.07 L706.91 357.24 L706.99 358.41 L707.08 359.58 L707.16 360.76 L707.24 361.93 L707.32 363.10 L707.40 364.27 L707.48 365.45 L707.56 366.62 L707.64 367.79 L707.72 368.96 L707.80 370.14 L707.88 371.31 L707.95 372.48 L708.03 373.65 L708.11 374.83 L708.18 376.00 L708.26 377.17 L708.33 378.35 L708.41 379.52 L708.48 380.69 L708.56 381.86 L708.63 383.04 L708.70 384.21 L708.77 385.38 L708.85 386.56 L708.92 387.73 L708.99 388.90 L709.06 390.08 L709.13 391.25 L709.20 392.42 L709.27 393.60 L709.33 394.77 L709.40 395.94 L709.47 397.12 L709.54 398.29 L709.60 399.46 L709.67 400.64 L709.73 401.81 L709.80 402.98 L709.86 404.16 L709.93 405.33 L709.99 406.50 L710.06 407.68 L710.12 408.85 L710.18 410.03 L710.24 411.20 L710.31 412.37 L710.37 413.55 L710.43 414.72 L710.49 415.89 L710.55 417.07 L710.61 418.24 L710.67 419.42 L710.72 420.59 L710.78 421.76 L710.84 422.94 L710.90 424.11 L710.95 425.28 L711.01 426.46 L711.07 427.63 L711.12 428.81 L711.18 429.98 L711.23 431.15 L711.29 432.33 L711.34 433.50 L711.39 434.67 L711.45 435.85 L711.50 437.02 L711.55 438.20 L711.60 439.37 L711.65 440.54 L711.71 441.72 L711.76 442.89 L711.81 444.07 L711.86 445.24 L711.91 446.41 L711.96 447.59 L712.01 448.76 L712.06 449.93 L712.10 451.11 L712.15 452.28 L712.20 453.46 L712.25 454.63 L712.30 455.80 L712.34 456.98 L712.39 458.15 L712.44 459.33 L712.48 460.50 L712.53 461.68 L712.58 462.85 L712.62 464.02 L712.67 465.20 L712.71 466.37 L712.76 467.55 L712.81 468.72 L712.85 469.89 L712.90 471.07 L712.94 472.24 L712.99 473.42 L713.03 474.59 L713.08 475.76 L713.12 476.94 L713.16 478.11 L713.21 479.29 L713.25 480.46 L713.30 481.64 L713.34 482.81 L713.38 483.98 L713.43 485.16 L713.47 486.33 L713.52 487.51 L713.56 488.68 L713.60 489.86 L713.65 491.03 L713.69 492.21 L713.74 493.38 L713.78 494.55 L713.82 495.73 L713.87 496.90 L713.91 498.08 L713.96 499.25 L714.00 500.43 L714.04 501.60 L714.09 502.78 L714.13 503.95 L714.18 505.13 L714.22 506.30 L714.27 507.47 L714.31 508.65 L714.36 509.82 L714.40 511.00 L714.45 512.17 L714.49 513.35 L714.54 514.52 L714.58 515.70 L714.63 516.87 L714.67 518.05 L714.72 519.22 L714.77 520.40 L714.81 521.57 L714.86 522.75 L714.91 523.92 L714.95 525.10 L715.00 526.27 L715.05 527.44 L715.10 528.62 L715.15 529.79 L715.19 530.97 L715.24 532.14 L715.29 533.32 L715.34 534.49 L715.39 535.67 L715.44 536.84 L715.49 538.02 L715.54 539.19 L715.59 540.37 L715.64 541.54 L715.69 542.72 L715.74 543.89 L715.79 545.07 L715.84 546.24 L715.89 547.41 L715.94 548.59 L715.99 549.76 L716.04 550.94 L716.08 552.11 L716.13 553.28 L716.18 554.46 L716.22 555.63 L716.26 556.81 L716.31 557.98 L716.35 559.15 L716.39 560.33 L716.43 561.50 L716.47 562.67 L716.51 563.85 L716.55 565.02 L716.58 566.19 L716.62 567.36 L716.65 568.54 L716.68 569.71 L716.71 570.88 L716.74 572.06 L716.77 573.23 L716.79 574.40 L716.82 575.57 L716.84 576.75 L716.86 577.92 L716.88 579.09 L716.89 580.27 L716.91 581.44 L716.92 582.61 L716.93 583.78 L716.93 584.95 L716.94 586.13 L716.94 587.30 L716.94 588.47 L716.94 589.64 L716.93 590.82 L716.92 591.99 L720.17 592.01 L720.18 590.83 L720.19 589.65 L720.19 588.47 L720.19 587.30 L720.19 586.12 L720.18 584.94 L720.18 583.76 L720.17 582.58 L720.16 581.40 L720.14 580.22 L720.13 579.05 L720.11 577.87 L720.09 576.69 L720.07 575.51 L720.04 574.34 L720.02 573.16 L719.99 571.98 L719.96 570.80 L719.93 569.63 L719.90 568.45 L719.87 567.27 L719.84 566.09 L719.80 564.92 L719.76 563.74 L719.72 562.56 L719.69 561.39 L719.64 560.21 L719.60 559.04 L719.56 557.86 L719.52 556.68 L719.47 555.51 L719.43 554.33 L719.38 553.16 L719.33 551.98 L719.29 550.80 L719.24 549.63 L719.19 548.45 L719.14 547.28 L719.09 546.10 L719.04 544.93 L718.99 543.75 L718.94 542.58 L718.89 541.40 L718.84 540.23 L718.79 539.05 L718.74 537.88 L718.69 536.71 L718.64 535.53 L718.59 534.36 L718.54 533.18 L718.50 532.01 L718.45 530.83 L718.40 529.66 L718.35 528.49 L718.30 527.31 L718.25 526.14 L718.21 524.96 L718.16 523.79 L718.11 522.62 L718.07 521.44 L718.02 520.27 L717.97 519.09 L717.93 517.92 L717.88 516.74 L717.83 515.57 L717.79 514.40 L717.74 513.22 L717.70 512.05 L717.65 510.87 L717.61 509.70 L717.56 508.52 L717.52 507.35 L717.47 506.18 L717.43 505.00 L717.38 503.83 L717.34 502.65 L717.30 501.48 L717.25 500.30 L717.21 499.13 L717.16 497.96 L717.12 496.78 L717.08 495.61 L717.03 494.43 L716.99 493.26 L716.94 492.08 L716.90 490.91 L716.86 489.74 L716.81 488.56 L716.77 487.39 L716.72 486.21 L716.68 485.04 L716.64 483.86 L716.59 482.69 L716.55 481.51 L716.50 480.34 L716.46 479.17 L716.42 477.99 L716.37 476.82 L716.33 475.64 L716.28 474.47 L716.24 473.29 L716.19 472.12 L716.15 470.94 L716.10 469.77 L716.06 468.59 L716.01 467.42 L715.97 466.25 L715.92 465.07 L715.88 463.90 L715.83 462.72 L715.78 461.55 L715.74 460.37 L715.69 459.20 L715.64 458.02 L715.60 456.85 L715.55 455.67 L715.50 454.50 L715.45 453.32 L715.40 452.15 L715.36 450.97 L715.31 449.80 L715.26 448.62 L715.21 447.45 L715.16 446.28 L715.11 445.10 L715.06 443.93 L715.01 442.75 L714.96 441.58 L714.91 440.40 L714.86 439.23 L714.80 438.05 L714.75 436.88 L714.70 435.70 L714.65 434.53 L714.59 433.35 L714.54 432.18 L714.48 431.00 L714.43 429.83 L714.37 428.65 L714.32 427.48 L714.26 426.30 L714.21 425.13 L714.15 423.95 L714.09 422.78 L714.03 421.60 L713.98 420.43 L713.92 419.25 L713.86 418.08 L713.80 416.90 L713.74 415.73 L713.68 414.55 L713.62 413.38 L713.56 412.20 L713.50 411.03 L713.43 409.85 L713.37 408.68 L713.31 407.50 L713.25 406.33 L713.18 405.15 L713.12 403.98 L713.05 402.80 L712.99 401.63 L712.92 400.45 L712.86 399.28 L712.79 398.11 L712.72 396.93 L712.65 395.76 L712.59 394.58 L712.52 393.41 L712.45 392.23 L712.38 391.06 L712.31 389.88 L712.24 388.71 L712.17 387.53 L712.10 386.36 L712.03 385.18 L711.95 384.01 L711.88 382.84 L711.81 381.66 L711.74 380.49 L711.66 379.31 L711.59 378.14 L711.51 376.96 L711.44 375.79 L711.36 374.62 L711.28 373.44 L711.21 372.27 L711.13 371.09 L711.05 369.92 L710.97 368.75 L710.89 367.57 L710.82 366.40 L710.74 365.22 L710.65 364.05 L710.57 362.88 L710.49 361.70 L710.41 360.53 L710.33 359.36 L710.25 358.18 L710.16 357.01 L710.08 355.83 L709.99 354.66 L709.91 353.49 L709.82 352.31 L709.74 351.14 L709.65 349.97 L709.57 348.80 L709.48 347.62 L709.39 346.45 L709.30 345.28 L709.21 344.10 L709.12 342.93 L709.03 341.76 L708.94 340.58 L708.85 339.41 L708.76 338.24 L708.67 337.07 L708.58 335.89 L708.48 334.72 L708.39 333.55 L708.30 332.38 L708.20 331.20 L708.11 330.03 L708.01 328.86 L707.91 327.69 L707.82 326.52 L707.72 325.34 L707.62 324.17 L707.52 323.00 L707.43 321.83 L707.33 320.66 L707.23 319.49 L707.13 318.31 L707.02 317.14 L706.92 315.97 L706.82 314.80 L706.72 313.63 L706.61 312.46 L706.51 311.29 L706.41 310.12 L706.30 308.95 L706.20 307.77 L706.09 306.60 L705.98 305.43 L705.87 304.26 L705.76 303.09 L705.66 301.92 L705.54 300.75 L705.43 299.58 L705.32 298.41 L705.21 297.24 L705.09 296.07 L704.98 294.90 L704.86 293.73 L704.75 292.56 L704.63 291.39 L704.51 290.22 L704.39 289.05 L704.27 287.88 L704.15 286.71 L704.02 285.54 L703.90 284.37 L703.77 283.20 L703.65 282.03 L703.52 280.86 L703.39 279.69 L703.26 278.53 L703.13 277.36 L702.99 276.19 L702.86 275.02 L702.72 273.85 L702.58 272.68 L702.44 271.51 L702.30 270.35 L702.16 269.18 L702.02 268.01 L701.87 266.84 L701.73 265.67 L701.58 264.51 L701.43 263.34 L701.28 262.17 L701.12 261.00 L700.97 259.84 L700.81 258.67 L700.66 257.50 L700.50 256.34 L700.33 255.17 L700.17 254.00 L700.00 252.84 L699.84 251.67 L699.67 250.50 L699.50 249.34 L699.32 248.17 L699.15 247.01 L698.97 245.84 L698.79 244.68 L698.61 243.51 L698.43 242.34 L698.24 241.18 L698.06 240.02 L697.87 238.85 L697.68 237.69 L697.48 236.52 L697.29 235.36 L697.09 234.19 L696.89 233.03 L696.69 231.87 L696.48 230.70 L696.27 229.54 L696.06 228.38 L695.85 227.21 L695.64 226.05 L695.42 224.89 L695.20 223.72 L694.98 222.56 L694.75 221.40 L694.52 220.24 L694.29 219.07 L694.05 217.91 L693.81 216.75 L693.57 215.59 L693.32 214.43 L693.06 213.28 L692.80 212.12 L692.54 210.96 L692.27 209.81 L691.99 208.66 L691.71 207.51 L691.42 206.36 L691.12 205.21 L690.82 204.06 L690.51 202.92 L690.19 201.78 L689.87 200.64 L689.54 199.51 L689.20 198.37 L688.85 197.24 L688.49 196.11 L688.13 194.99 L687.75 193.86 L687.37 192.74 L686.98 191.63 L686.57 190.52 L686.16 189.41 L685.74 188.30 L685.31 187.20 L684.86 186.10 L684.41 185.01 L683.94 183.92 L683.46 182.83 L682.97 181.75 L682.47 180.67 L681.96 179.60 L681.43 178.53 L680.90 177.47 L680.35 176.41 L679.79 175.36 L679.21 174.31 L678.63 173.27 L678.04 172.24 L677.44 171.21 L676.83 170.18 L676.21 169.16 L675.58 168.14 L674.94 167.13 L674.29 166.13 L673.64 165.12 L672.98 164.12 L672.32 163.13 L671.64 162.14 L670.97 161.15 L670.28 160.17 L669.60 159.19 L668.90 158.21 L668.21 157.24 L667.50 156.27 L666.79 155.30 L666.07 154.33 L665.34 153.38 L664.59 152.42 L663.82 151.48 L663.04 150.56 L662.24 149.64 L661.41 148.75 L660.57 147.87 L659.70 147.02 L658.82 146.19 L657.92 145.38 L657.00 144.59 L656.07 143.82 L655.12 143.06 L654.16 142.33 L653.18 141.62 L652.19 140.92 L651.18 140.25 L650.17 139.59 L649.14 138.95 L648.10 138.32 L647.05 137.71 L645.99 137.12 L644.93 136.55 L643.85 135.99 L642.77 135.44 L641.69 134.91 L640.59 134.39 L639.49 133.89 L638.39 133.40 L637.28 132.92 L636.17 132.46 L635.05 132.01 L633.93 131.57 L632.82 131.14 L631.69 130.72 L630.57 130.32 L629.45 129.92 L628.32 129.54 L627.19 129.16 L626.06 128.80 L624.93 128.45 L623.79 128.10 L622.65 127.77 L621.52 127.45 L620.38 127.13 L619.23 126.83 L618.09 126.54 L616.95 126.25 L615.80 125.97 L614.65 125.71 L613.50 125.45 L612.35 125.20 L611.20 124.96 L610.04 124.73 L608.89 124.50 L607.73 124.29 L606.57 124.08 L605.41 123.88 L604.25 123.69 L603.09 123.50 L601.93 123.33 L600.77 123.16 L599.60 123.00 L598.43 122.84 L597.27 122.69 L596.10 122.55 L594.93 122.42 L593.76 122.29 L592.59 122.17 L591.41 122.05 L590.24 121.94 L589.07 121.84 L587.89 121.74 L586.72 121.65 L585.54 121.57 L584.36 121.49 L583.19 121.41 L582.01 121.34 L580.83 121.28 L579.65 121.22 L578.47 121.16 L577.29 121.11 L576.11 121.06 L574.92 121.02 L573.74 120.98 L572.56 120.95 L571.38 120.92 L570.19 120.89 L569.01 120.87 L567.82 120.85 L566.64 120.84 L565.45 120.83 L564.27 120.82 L563.08 120.81 L561.90 120.81 L560.71 120.81 L559.53 120.81 L558.34 120.82 L557.16 120.82 L555.97 120.83 L554.79 120.84 L553.60 120.86 L552.41 120.87 L551.23 120.89 L550.04 120.91 L548.86 120.93 L547.67 120.95 L546.49 120.97 L545.30 120.99 L544.12 121.02 L542.93 121.04 L541.75 121.06 L540.57 121.09 L539.38 121.12 L538.20 121.14 L537.02 121.17 L535.84 121.19 L534.65 121.22 L533.47 121.25 L532.29 121.28 L531.11 121.30 L529.92 121.33 L528.74 121.36 L527.56 121.39 L526.38 121.42 L525.20 121.45 L524.02 121.48 L522.84 121.51 L521.66 121.54 L520.47 121.57 L519.29 121.60 L518.11 121.63 L516.93 121.66 L515.75 121.69 L514.57 121.72 L513.39 121.75 L512.21 121.79 L511.03 121.82 L509.86 121.85 L508.68 121.88 L507.50 121.92 L506.32 121.95 L505.14 121.98 L503.96 122.02 L502.78 122.05 L501.60 122.09 L500.42 122.12 L499.25 122.15 L498.07 122.19 L496.89 122.22 L495.71 122.26 L494.54 122.30 L493.36 122.33 L492.18 122.37 L491.00 122.40 L489.83 122.44 L488.65 122.48 L487.47 122.51 L486.29 122.55 L485.12 122.59 L483.94 122.63 L482.76 122.66 L481.59 122.70 L480.41 122.74 L479.24 122.78 L478.06 122.82 L476.88 122.85 L475.71 122.89 L474.53 122.93 L473.36 122.97 L472.18 123.01 L471.00 123.05 L469.83 123.09 L468.65 123.13 L467.48 123.17 L466.30 123.21 L465.13 123.25 L463.95 123.29 L462.78 123.33 L461.60 123.37 L460.43 123.41 L459.25 123.46 L458.08 123.50 L456.91 123.54 L455.73 123.58 L454.56 123.62 L453.38 123.66 L452.21 123.71 L451.03 123.75 L449.86 123.79 L448.69 123.83 L447.51 123.88 L446.34 123.92 L445.16 123.96 L443.99 124.01 L442.82 124.05 L441.64 124.09 L440.47 124.14 L439.30 124.18 L438.12 124.22 L436.95 124.27 L435.78 124.31 L434.60 124.36 L433.43 124.40 L432.26 124.44 L431.08 124.49 L429.91 124.53 L428.74 124.58 L427.57 124.62 L426.39 124.67 L425.22 124.71 L424.05 124.76 L422.87 124.80 L421.70 124.85 L420.53 124.89 L419.36 124.94 L418.18 124.98 L417.01 125.03 L415.84 125.08 L414.67 125.12 L413.49 125.17 L412.32 125.21 L411.15 125.26 L409.98 125.31 L408.80 125.35 L407.63 125.40 L406.46 125.44 L405.29 125.49 L404.12 125.54 L402.94 125.58 L401.77 125.63 L400.60 125.68 L399.43 125.72 L398.26 125.77 L397.08 125.82 L395.91 125.86 L394.74 125.91 L393.57 125.96 L392.39 126.00 L391.22 126.05 L390.05 126.10 L388.88 126.14 L387.71 126.19 L386.53 126.24 L385.36 126.29 L384.19 126.33 L383.02 126.38 L381.85 126.43 L380.68 126.47 L379.50 126.52 L378.33 126.57 L377.16 126.62 L375.99 126.66 L374.82 126.71 L373.64 126.76 L372.47 126.81 L371.30 126.85 L370.13 126.90 L368.95 126.95 L367.78 126.99 L366.61 127.04 L365.44 127.09 L364.27 127.14 L363.09 127.18 L361.92 127.23 L360.75 127.28 L359.58 127.32 L358.41 127.37 L357.23 127.42 L356.06 127.47 L354.89 127.51 L353.72 127.56 L352.54 127.61 L351.37 127.65 L350.20 127.70 L349.03 127.75 L347.85 127.80 L346.68 127.84 L345.51 127.89 L344.34 127.94 L343.16 127.98 L341.99 128.03 L340.82 128.08 L339.64 128.12 L338.47 128.17 L337.30 128.21 L336.13 128.26 L334.95 128.31 L333.78 128.35 L332.61 128.40 L331.43 128.45 L330.26 128.49 L329.09 128.54 L327.91 128.58 L326.74 128.63 L325.57 128.68 L324.39 128.72 L323.22 128.77 L322.04 128.81 L320.87 128.86 L319.70 128.90 L318.52 128.95 L317.35 128.99 L316.18 129.04 L315.00 129.08 L313.83 129.13 L312.65 129.17 L311.48 129.22 L310.30 129.26 L309.13 129.31 L307.96 129.35 L306.78 129.40 L305.61 129.44 L304.43 129.49 L303.26 129.53 L302.08 129.58 L300.91 129.62 L299.73 129.66 L298.56 129.71 L297.38 129.75 L296.21 129.80 L295.03 129.84 L293.86 129.88 L292.68 129.93 L291.51 129.97 L290.33 130.02 L289.16 130.06 L287.98 130.10 L286.81 130.15 L285.63 130.19 L284.46 130.23 L283.28 130.28 L282.11 130.32 L280.93 130.36 L279.76 130.41 L278.58 130.45 L277.41 130.49 L276.23 130.53 L275.06 130.58 L273.88 130.62 L272.70 130.66 L271.53 130.71 L270.35 130.75 L269.18 130.79 L268.00 130.83 L266.83 130.88 L265.65 130.92 L264.47 130.96 L263.30 131.00 L262.12 131.04 L260.95 131.09 L259.77 131.13 L258.59 131.17 L257.42 131.21 L256.24 131.25 L255.07 131.30 L253.89 131.34 L252.71 131.38 L251.54 131.42 L250.36 131.46 L249.19 131.50 L248.01 131.54 L246.83 131.59 L245.66 131.63 L244.48 131.67 L243.30 131.71 L242.13 131.75 L240.95 131.79 L239.78 131.83 L238.60 131.87 L237.42 131.91 L236.25 131.96 L235.07 132.00 L233.89 132.04 L232.72 132.08 L231.54 132.12 L230.37 132.16 L229.19 132.20 L228.01 132.24 L226.84 132.28 L225.66 132.32 L224.48 132.36 L223.31 132.40 L222.13 132.44 L220.95 132.48 L219.78 132.52 L218.60 132.56 L217.42 132.60 L216.25 132.64 L215.07 132.68 L213.89 132.72 L212.72 132.76 L211.54 132.80 L210.37 132.84 L209.19 132.88 L208.01 132.92 L206.84 132.96 L205.66 132.99 L204.48 133.03 L203.31 133.07 L202.13 133.11 L200.95 133.15 L199.78 133.19 L198.60 133.23 L197.42 133.27 L196.25 133.31 L195.07 133.35 L193.89 133.38 L192.72 133.42 L191.54 133.46 L190.37 133.50 L189.19 133.54 L188.01 133.58 L186.84 133.61 L185.66 133.65 L184.48 133.69 L183.31 133.73 L182.13 133.77 L180.95 133.81 L179.78 133.84 L178.60 133.88 L177.43 133.92 L176.25 133.96 L175.07 134.00 L173.90 134.03 L172.72 134.07 L171.55 134.11 L170.37 134.15 L169.19 134.18 L168.02 134.22 L166.84 134.26 L165.66 134.30 L164.49 134.33 L163.31 134.37 L162.14 134.41 L160.96 134.45 L159.78 134.48 L158.61 134.52 L157.43 134.56 L156.26 134.59 L155.08 134.63 L153.91 134.67 L152.73 134.71 L151.55 134.74 L150.38 134.78 L149.20 134.82 L148.03 134.85 L146.85 134.89 L145.68 134.93 L144.50 134.96 L143.32 135.00 L142.15 135.04 L140.97 135.07 L139.80 135.11 L138.62 135.14 L137.45 135.18 L136.27 135.22 L135.10 135.25 L133.92 135.29 L132.75 135.33 L131.57 135.36 L130.40 135.40 L129.22 135.43 L128.05 135.47 L126.87 135.51 L125.70 135.54 L124.52 135.58 L123.35 135.61 L122.17 135.65 L121.00 135.68 L119.82 135.72 L118.65 135.75 L117.47 135.79 L116.30 135.83 L115.12 135.86 L113.95 135.90 L112.78 135.93 L111.60 135.97 L110.43 136.00 L109.25 136.04 L108.08 136.07 L106.90 136.11 L105.73 136.14 L104.56 136.18 L103.38 136.21 L102.21 136.25 L101.03 136.28 L99.86 136.32 L98.69 136.35 L97.51 136.39 L96.34 136.42 L95.17 136.46 L93.99 136.49 L92.82 136.53 L91.65 136.56 L90.47 136.60 L89.30 136.63 L88.13 136.66 L86.95 136.70 L85.78 136.73 L84.61 136.77 L83.43 136.80 L82.26 136.84 L81.09 136.87 L79.92 136.90 L78.74 136.94 L77.57 136.97 L76.40 137.01 L75.23 137.04 L74.05 137.07 L72.88 137.11 L71.71 137.14 L70.54 137.18 L69.36 137.21 L68.19 137.24 L67.02 137.28 L65.85 137.31 L64.68 137.35 L63.50 137.38 L62.33 137.41 L61.13 137.45 L60.09 137.51Z" fill="#000"/>
</g>
<path d="M284 0L284 505L101 505L101 568C215 576 280 610 318 709L372 709L372 0Z" fill="#000" stroke="#000" stroke-width="12" transform="translate(43.78 134.60) scale(0.0200 -0.0200)"/>
<path d="M284 0L284 505L101 505L101 568C215 576 280 610 318 709L372 709L372 0Z" fill="#000" stroke="#000" stroke-width="12" transform="translate(10.74 291.20) scale(0.0200 -0.0200)"/><text x="21.86" y="291.20" font-size="20" fill="#000" stroke="#000" stroke-width="0.3">0</text><text x="33.28" y="282.40" font-size="18" fill="#000" stroke="#000" stroke-width="0.3">−</text><text x="43.79" y="281.00" font-size="18" fill="#000" stroke="#000" stroke-width="0.3">4</text>
<path d="M284 0L284 505L101 505L101 568C215 576 280 610 318 709L372 709L372 0Z" fill="#000" stroke="#000" stroke-width="12" transform="translate(10.74 444.40) scale(0.0200 -0.0200)"/><text x="21.86" y="444.40" font-size="20" fill="#000" stroke="#000" stroke-width="0.3">0</text><text x="33.28" y="435.60" font-size="18" fill="#000" stroke="#000" stroke-width="0.3">−</text><text x="43.79" y="434.20" font-size="18" fill="#000" stroke="#000" stroke-width="0.3">8</text>
<path d="M284 0L284 505L101 505L101 568C215 576 280 610 318 709L372 709L372 0Z" fill="#000" stroke="#000" stroke-width="12" transform="translate(0.73 597.60) scale(0.0200 -0.0200)"/><text x="11.85" y="597.60" font-size="20" fill="#000" stroke="#000" stroke-width="0.3">0</text><text x="23.27" y="588.80" font-size="18" fill="#000" stroke="#000" stroke-width="0.3">−</text><path d="M284 0L284 505L101 505L101 568C215 576 280 610 318 709L372 709L372 0Z" fill="#000" stroke="#000" stroke-width="12" transform="translate(33.78 587.40) scale(0.0180 -0.0180)"/><text x="43.79" y="587.40" font-size="18" fill="#000" stroke="#000" stroke-width="0.3">2</text>
<path d="M284 0L284 505L101 505L101 568C215 576 280 610 318 709L372 709L372 0Z" fill="#000" stroke="#000" stroke-width="12" transform="translate(0.73 750.80) scale(0.0200 -0.0200)"/><text x="11.85" y="750.80" font-size="20" fill="#000" stroke="#000" stroke-width="0.3">0</text><text x="23.27" y="742.00" font-size="18" fill="#000" stroke="#000" stroke-width="0.3">−</text><path d="M284 0L284 505L101 505L101 568C215 576 280 610 318 709L372 709L372 0Z" fill="#000" stroke="#000" stroke-width="12" transform="translate(33.78 740.60) scale(0.0180 -0.0180)"/><text x="43.79" y="740.60" font-size="18" fill="#000" stroke="#000" stroke-width="0.3">6</text>
<g fill="#686868" stroke="#686868" stroke-width="0.2" font-size="20">
<text x="36" y="86.5">log(<tspan font-style="italic" dx="0.8">c</tspan><tspan dx="0.8">)</tspan></text>
<text transform="translate(734.6 768.2) scale(1.22 1)" font-style="italic">α</text>
</g>
<g fill="#686868" stroke="#686868" stroke-width="0.2" font-size="23.5">
<text x="359.5" y="41.1" ><tspan font-style="italic">γ</tspan><tspan dx="1" dy="1.5">=</tspan></text>
<path d="M284 0L284 505L101 505L101 568C215 576 280 610 318 709L372 709L372 0Z" fill="#686868" stroke="#686868" stroke-width="12" transform="translate(390.07 20.70) scale(0.0235 -0.0235)"/>
<text x="396.6" y="64.2" text-anchor="middle">2</text>
<rect x="388.5" y="33.1" width="14.7" height="1.8"/>
</g>
</svg>
</body></html>
